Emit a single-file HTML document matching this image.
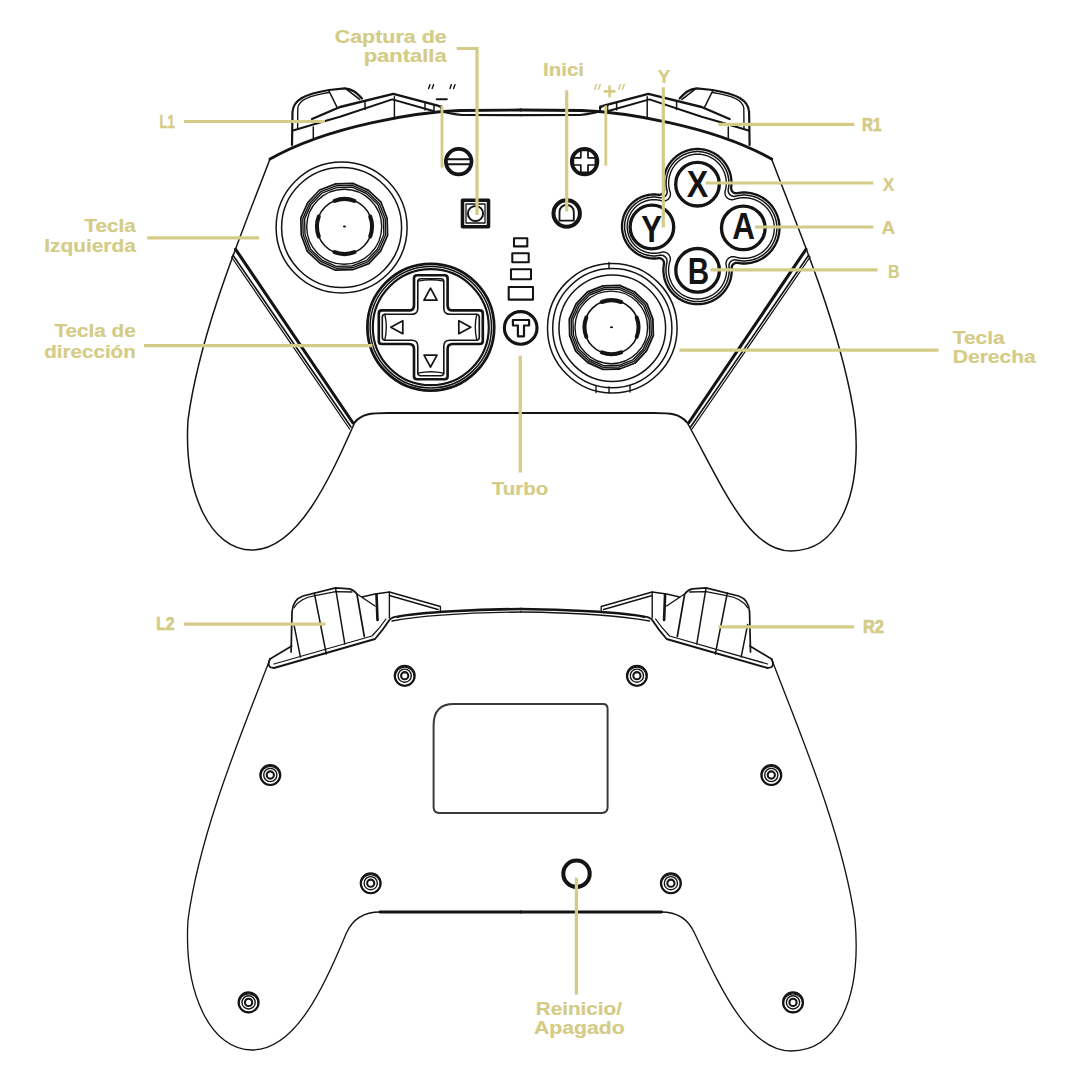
<!DOCTYPE html>
<html><head><meta charset="utf-8"><style>
html,body{margin:0;padding:0;background:#fff;}
svg{display:block;}
</style></head><body>
<svg width="1080" height="1080" viewBox="0 0 1080 1080">
<rect width="1080" height="1080" fill="#fff"/>
<g fill="none" stroke="#141414" stroke-linejoin="round" stroke-linecap="round">
<g><path d="M 521 110 L 460 110.5 C 420 112, 330 125, 270 159" stroke-width="2.88"/><path d="M 521 115.2 L 462 115 Q 450 114, 441.5 111" stroke-width="2.19"/><path d="M 355 422 C 362 414, 370 413, 388 413 L 521 413" stroke-width="1.96"/><path d="M 235.6 249.3 L 353 423" stroke-width="3.11"/><path d="M 233 255.2 L 351 427" stroke-width="1.61"/><path d="M 231.5 257 L 349.6 429" stroke-width="1.27"/><path d="M 292 145 L 292.5 112 C 293 100, 305 94, 329 90 L 345 88.3 C 352 89, 356 92, 362 98.5" stroke-width="2.19"/><path d="M 297.6 128 L 297.8 108 C 299 100, 308 96, 329 92.5" stroke-width="1.38"/><path d="M 329 91 L 337.4 108" stroke-width="1.61"/><path d="M 346.7 89.3 L 359.6 99.4" stroke-width="1.61"/><path d="M 312 119 L 340 107 L 393.3 93.9 L 437.8 105.6 Q 441 106.5 441.5 108" stroke-width="2.42"/><path d="M 293 130.5 L 326 120.7 L 340 116.7 L 392.2 99.4 L 433.3 111" stroke-width="1.96"/><path d="M 313.3 127 L 313.3 138 M 365 101 L 365 109.4 M 394.4 96.7 L 394.4 117.8 M 425 103.3 L 425 110 M 434 105 L 434 112" stroke-width="1.50"/><path d="M 441.5 106 L 441.5 112" stroke-width="1.73"/></g><g transform="matrix(-1 0 0 1 1041.6 0)"><path d="M 521 110 L 460 110.5 C 420 112, 330 125, 270 159" stroke-width="2.88"/><path d="M 521 115.2 L 462 115 Q 450 114, 441.5 111" stroke-width="2.19"/><path d="M 355 422 C 362 414, 370 413, 388 413 L 521 413" stroke-width="1.96"/><path d="M 235.6 249.3 L 353 423" stroke-width="3.11"/><path d="M 233 255.2 L 351 427" stroke-width="1.61"/><path d="M 231.5 257 L 349.6 429" stroke-width="1.27"/><path d="M 292 145 L 292.5 112 C 293 100, 305 94, 329 90 L 345 88.3 C 352 89, 356 92, 362 98.5" stroke-width="2.19"/><path d="M 297.6 128 L 297.8 108 C 299 100, 308 96, 329 92.5" stroke-width="1.38"/><path d="M 329 91 L 337.4 108" stroke-width="1.61"/><path d="M 346.7 89.3 L 359.6 99.4" stroke-width="1.61"/><path d="M 312 119 L 340 107 L 393.3 93.9 L 437.8 105.6 Q 441 106.5 441.5 108" stroke-width="2.42"/><path d="M 293 130.5 L 326 120.7 L 340 116.7 L 392.2 99.4 L 433.3 111" stroke-width="1.96"/><path d="M 313.3 127 L 313.3 138 M 365 101 L 365 109.4 M 394.4 96.7 L 394.4 117.8 M 425 103.3 L 425 110 M 434 105 L 434 112" stroke-width="1.50"/><path d="M 441.5 106 L 441.5 112" stroke-width="1.73"/></g><path d="M 270 159 C 245 225, 200 330, 188 420 C 183.5 494, 211 550, 252 550  C 298 550, 330 478, 355 422" stroke-width="1.50"/><path d="M 771.6 159 C 796.6 225, 842 330, 855 420 C 862 500, 836 551, 791 551 C 748 551, 722 485, 687.4 423" stroke-width="1.50"/><circle cx="341.6" cy="227.5" r="65.5" stroke-width="1.50"/><circle cx="341.6" cy="227.5" r="60.0" stroke-width="1.50"/><path d="M387.6 235.4 L380.6 251.1 L368.8 263.6 L352.7 269.7 L335.6 270.2 L319.9 263.2 L307.4 251.4 L301.3 235.3 L300.8 218.2 L307.8 202.5 L319.6 190.0 L335.7 183.9 L352.8 183.4 L368.5 190.4 L381.0 202.2 L387.1 218.3 Z" stroke-width="1.73"/><path d="M385.6 235.0 L378.9 250.0 L367.6 261.9 L352.4 267.8 L336.0 268.2 L321.0 261.5 L309.1 250.2 L303.2 235.0 L302.8 218.6 L309.5 203.6 L320.8 191.7 L336.0 185.8 L352.4 185.4 L367.4 192.1 L379.3 203.4 L385.2 218.6 Z" stroke-width="1.38"/><path d="M383.8 234.7 L377.5 249.0 L366.6 260.4 L352.0 266.0 L336.3 266.4 L322.0 260.1 L310.6 249.2 L305.0 234.6 L304.6 218.9 L310.9 204.6 L321.8 193.2 L336.4 187.6 L352.1 187.2 L366.4 193.5 L377.8 204.4 L383.4 219.0 Z" stroke-width="1.38"/><circle cx="344.2" cy="226.8" r="37.5" stroke-width="1.38"/><circle cx="344.5" cy="226.5" r="27.5" stroke-width="1.61"/><path d="M 370.2 216.6 A 27.5 27.5 0 0 1 370.2 236.4" stroke-width="4.03"/><path d="M 354.4 252.2 A 27.5 27.5 0 0 1 334.6 252.2" stroke-width="4.03"/><path d="M 318.8 236.4 A 27.5 27.5 0 0 1 318.8 216.6" stroke-width="4.03"/><path d="M 334.6 200.8 A 27.5 27.5 0 0 1 354.4 200.8" stroke-width="4.03"/><ellipse cx="344.5" cy="226.5" rx="1.6" ry="1" fill="#141414" stroke="none"/><circle cx="612.3" cy="328.2" r="64.8" stroke-width="1.50"/><circle cx="612.3" cy="328.2" r="59.6" stroke-width="1.50"/><circle cx="612.3" cy="328.2" r="53.3" stroke-width="1.50"/><path d="M653.3 335.7 L646.5 350.9 L635.1 363.0 L619.6 369.0 L603.0 369.4 L587.8 362.6 L575.7 351.2 L569.7 335.7 L569.3 319.1 L576.1 303.9 L587.5 291.8 L603.0 285.8 L619.6 285.4 L634.8 292.2 L646.9 303.6 L652.9 319.1 Z" stroke-width="1.84"/><path d="M651.3 335.4 L644.9 349.8 L634.0 361.3 L619.2 367.0 L603.3 367.4 L588.9 361.0 L577.4 350.1 L571.7 335.3 L571.3 319.4 L577.7 305.0 L588.6 293.5 L603.4 287.8 L619.3 287.4 L633.7 293.8 L645.2 304.7 L650.9 319.5 Z" stroke-width="1.38"/><path d="M649.6 335.0 L643.4 348.9 L633.0 359.8 L618.8 365.3 L603.7 365.7 L589.8 359.5 L578.9 349.1 L573.4 334.9 L573.0 319.8 L579.2 305.9 L589.6 295.0 L603.8 289.5 L618.9 289.1 L632.8 295.3 L643.7 305.7 L649.2 319.9 Z" stroke-width="1.38"/><circle cx="611.3" cy="327.4" r="36.3" stroke-width="1.38"/><circle cx="611.5" cy="327.2" r="27.0" stroke-width="1.61"/><path d="M 636.7 317.5 A 27.0 27.0 0 0 1 636.7 336.9" stroke-width="4.03"/><path d="M 621.2 352.4 A 27.0 27.0 0 0 1 601.8 352.4" stroke-width="4.03"/><path d="M 586.3 336.9 A 27.0 27.0 0 0 1 586.3 317.5" stroke-width="4.03"/><path d="M 601.8 302.0 A 27.0 27.0 0 0 1 621.2 302.0" stroke-width="4.03"/><ellipse cx="611.5" cy="327.2" rx="1.6" ry="1" fill="#141414" stroke="none"/><path d="M 609 262.5 L 609 268.5 M 596 386.5 L 596 392.6 M 609 387 L 609 393 M 630 386 L 630 392" stroke-width="1.38"/><circle cx="430.8" cy="327.2" r="63.4" stroke-width="2.76"/><circle cx="430.8" cy="327.2" r="60.7" stroke-width="1.50"/><circle cx="430.8" cy="327.2" r="58.0" stroke-width="2.19"/><path d="M 417.0 275.2 L 444.6 275.2 Q 447.6 275.2 447.6 278.2 L 447.6 305.4 Q 447.6 310.4 452.6 310.4 L 479.8 310.4 Q 482.8 310.4 482.8 313.4 L 482.8 341.0 Q 482.8 344.0 479.8 344.0 L 452.6 344.0 Q 447.6 344.0 447.6 349.0 L 447.6 376.2 Q 447.6 379.2 444.6 379.2 L 417.0 379.2 Q 414.0 379.2 414.0 376.2 L 414.0 349.0 Q 414.0 344.0 409.0 344.0 L 381.8 344.0 Q 378.8 344.0 378.8 341.0 L 378.8 313.4 Q 378.8 310.4 381.8 310.4 L 409.0 310.4 Q 414.0 310.4 414.0 305.4 L 414.0 278.2 Q 414.0 275.2 417.0 275.2 Z" stroke-width="2.65"/><path d="M 420.8 278.7 L 440.8 278.7 Q 443.8 278.7 443.8 281.7 L 443.8 308.2 Q 443.8 314.2 449.8 314.2 L 476.3 314.2 Q 479.3 314.2 479.3 317.2 L 479.3 337.2 Q 479.3 340.2 476.3 340.2 L 449.8 340.2 Q 443.8 340.2 443.8 346.2 L 443.8 372.7 Q 443.8 375.7 440.8 375.7 L 420.8 375.7 Q 417.8 375.7 417.8 372.7 L 417.8 346.2 Q 417.8 340.2 411.8 340.2 L 385.3 340.2 Q 382.3 340.2 382.3 337.2 L 382.3 317.2 Q 382.3 314.2 385.3 314.2 L 411.8 314.2 Q 417.8 314.2 417.8 308.2 L 417.8 281.7 Q 417.8 278.7 420.8 278.7 Z" stroke-width="1.61"/><path d="M 417.8 281.2 Q 430.8 278.2 443.8 281.2 M 417.8 373.2 Q 430.8 370.2 443.8 373.2 M 384.8 314.2 Q 387.8 327.2 384.8 340.2 M 476.8 314.2 Q 473.8 327.2 476.8 340.2" stroke-width="1.38"/><path d="M 424.0 300.2 L 437.0 300.2 L 430.5 288.2 Z M 424.0 355.2 L 437.0 355.2 L 430.5 367.2 Z M 402.8 320.7 L 402.8 333.7 L 390.8 327.2 Z M 458.8 320.7 L 458.8 333.7 L 470.8 327.2 Z" stroke-width="1.73"/><circle cx="458.7" cy="161.6" r="12.8" stroke-width="3.80"/><path d="M 448 159.2 L 469.5 159.2 M 448 164.2 L 469.5 164.2" stroke-width="1.96"/><circle cx="584.6" cy="161.6" r="12.8" stroke-width="3.80"/><path d="M 580.8 150.4 L 588.0 150.4 L 588.0 157.8 L 595.4 157.8 L 595.4 165.0 L 588.0 165.0 L 588.0 172.4 L 580.8 172.4 L 580.8 165.0 L 573.4 165.0 L 573.4 157.8 L 580.8 157.8 Z" stroke-width="1.73"/><rect x="462.5" y="200.3" width="26" height="26.5" stroke-width="3.57"/><rect x="466" y="204" width="19" height="19" stroke-width="1.27"/><circle cx="475.5" cy="213.5" r="7.6" stroke-width="1.96"/><circle cx="566.7" cy="213.5" r="13.2" stroke-width="4.03"/><path d="M 559.5 220.7 L 559.5 212 Q 559.5 206, 566.7 204.5 Q 573.8 206, 573.8 212 L 573.8 220.7 Z" stroke-width="1.84"/><rect x="514" y="238.2" width="13.3" height="8.2" stroke-width="2.07"/><rect x="512.3" y="253.3" width="16.4" height="9" stroke-width="2.07"/><rect x="511" y="269.3" width="20" height="9.9" stroke-width="2.07"/><rect x="508.7" y="287" width="24.3" height="12.6" stroke-width="2.07"/><circle cx="520.7" cy="327.9" r="16.3" stroke-width="3.11"/><path d="M 512.9 320 L 529.1 320 L 529.1 325.5 L 524 325.5 L 524 336.3 L 517.9 336.3 L 517.9 325.5 L 512.9 325.5 Z" stroke-width="2.19"/><path d="M658.3 258.2 L658.5 258.2 L658.6 258.2 L658.7 258.2 L658.8 258.2 L658.9 258.2 L659.1 258.2 L659.2 258.2 L659.3 258.2 L659.4 258.2 L659.6 258.2 L659.7 258.2 L659.8 258.2 L659.9 258.2 L660.0 258.3 L660.2 258.3 L660.3 258.3 L660.4 258.4 L660.5 258.4 L660.6 258.4 L660.7 258.5 L660.9 258.5 L661.0 258.6 L661.1 258.6 L661.2 258.7 L661.3 258.7 L661.4 258.8 L661.5 258.8 L661.6 258.9 L661.7 259.0 L661.8 259.0 L661.9 259.1 L662.0 259.2 L662.1 259.3 L662.2 259.3 L662.3 259.4 L662.4 259.5 L662.5 259.6 L662.6 259.7 L662.7 259.8 L662.7 259.8 L662.8 259.9 L662.9 260.0 L663.0 260.1 L663.1 260.2 L663.1 260.3 L663.2 260.4 L663.3 260.5 L663.3 260.6 L663.4 260.7 L663.4 260.9 L663.5 261.0 L663.5 261.1 L663.6 261.2 L663.6 261.3 L663.7 261.4 L663.7 261.5 L663.8 261.6 L663.8 261.8 L663.8 261.9 L663.9 262.0 L663.9 262.1 L663.9 262.2 L663.9 262.4 L664.0 262.5 L664.0 262.6 L664.0 262.7 L664.0 262.9 L664.0 263.0 L664.0 263.1 L664.0 263.2 L664.0 263.3 L664.0 263.5 L664.0 263.6 L664.0 263.7 L664.0 263.8 L663.9 264.0 L663.9 264.1 L663.9 264.1 L663.9 264.2 L663.8 265.0 L663.8 265.0 L663.7 265.8 L663.7 265.8 L663.6 266.6 L663.6 266.7 L663.5 267.5 L663.5 267.5 L663.4 268.3 L663.4 268.4 L663.4 269.1 L663.4 269.2 L663.4 270.0 L663.4 270.0 L663.4 270.8 L663.4 270.9 L663.4 271.6 L663.4 271.7 L663.5 272.5 L663.5 272.5 L663.6 273.3 L663.6 273.4 L663.7 274.2 L663.7 274.2 L663.8 275.0 L663.8 275.0 L663.9 275.8 L663.9 275.9 L664.1 276.6 L664.1 276.7 L664.2 277.5 L664.2 277.5 L664.4 278.3 L664.4 278.3 L664.6 279.1 L664.6 279.2 L664.9 279.9 L664.9 280.0 L665.1 280.7 L665.1 280.8 L665.4 281.5 L665.4 281.6 L665.7 282.3 L665.7 282.3 L666.0 283.1 L666.0 283.1 L666.3 283.8 L666.3 283.9 L666.7 284.6 L666.7 284.6 L667.0 285.3 L667.1 285.4 L667.4 286.1 L667.5 286.1 L667.8 286.8 L667.9 286.9 L668.3 287.6 L668.3 287.6 L668.7 288.3 L668.7 288.3 L669.1 289.0 L669.2 289.0 L669.6 289.7 L669.7 289.7 L670.1 290.3 L670.1 290.4 L670.6 291.0 L670.7 291.1 L671.1 291.7 L671.2 291.7 L671.7 292.3 L671.7 292.4 L672.2 292.9 L672.3 293.0 L672.8 293.6 L672.9 293.6 L673.4 294.2 L673.4 294.2 L674.0 294.7 L674.0 294.8 L674.6 295.3 L674.7 295.4 L675.2 295.9 L675.3 295.9 L675.9 296.4 L675.9 296.5 L676.5 296.9 L676.6 297.0 L677.2 297.5 L677.3 297.5 L677.9 297.9 L677.9 298.0 L678.6 298.4 L678.6 298.5 L679.3 298.9 L679.3 298.9 L680.0 299.3 L680.0 299.3 L680.7 299.7 L680.8 299.8 L681.5 300.1 L681.5 300.2 L682.2 300.5 L682.3 300.6 L683.0 300.9 L683.0 300.9 L683.7 301.3 L683.8 301.3 L684.5 301.6 L684.5 301.6 L685.3 301.9 L685.3 301.9 L686.0 302.2 L686.1 302.2 L686.8 302.5 L686.9 302.5 L687.6 302.7 L687.7 302.7 L688.4 303.0 L688.5 303.0 L689.3 303.2 L689.3 303.2 L690.1 303.4 L690.1 303.4 L690.9 303.5 L691.0 303.5 L691.7 303.7 L691.8 303.7 L692.6 303.8 L692.6 303.8 L693.4 303.9 L693.4 303.9 L694.2 304.0 L694.3 304.0 L695.1 304.1 L695.1 304.1 L695.9 304.2 L696.0 304.2 L696.7 304.2 L696.8 304.2 L697.6 304.2 L697.6 304.2 L698.4 304.2 L698.5 304.2 L699.2 304.2 L699.3 304.2 L700.1 304.1 L700.1 304.1 L700.9 304.0 L701.0 304.0 L701.8 303.9 L701.8 303.9 L702.6 303.8 L702.6 303.8 L703.4 303.7 L703.5 303.7 L704.2 303.5 L704.3 303.5 L705.1 303.4 L705.1 303.4 L705.9 303.2 L705.9 303.2 L706.7 303.0 L706.8 303.0 L707.5 302.7 L707.6 302.7 L708.3 302.5 L708.4 302.5 L709.1 302.2 L709.2 302.2 L709.9 301.9 L709.9 301.9 L710.7 301.6 L710.7 301.6 L711.4 301.3 L711.5 301.3 L712.2 300.9 L712.2 300.9 L712.9 300.6 L713.0 300.5 L713.7 300.2 L713.7 300.1 L714.4 299.8 L714.5 299.7 L715.2 299.3 L715.2 299.3 L715.9 298.9 L715.9 298.9 L716.6 298.5 L716.6 298.4 L717.3 298.0 L717.3 297.9 L717.9 297.5 L718.0 297.5 L718.6 297.0 L718.7 296.9 L719.3 296.5 L719.3 296.4 L719.9 295.9 L720.0 295.9 L720.5 295.4 L720.6 295.3 L721.2 294.8 L721.2 294.7 L721.8 294.2 L721.8 294.2 L722.3 293.6 L722.4 293.6 L722.9 293.0 L723.0 292.9 L723.5 292.4 L723.5 292.3 L724.0 291.7 L724.1 291.7 L724.5 291.1 L724.6 291.0 L725.1 290.4 L725.1 290.3 L725.5 289.7 L725.6 289.7 L726.0 289.0 L726.1 289.0 L726.5 288.3 L726.5 288.3 L726.9 287.6 L726.9 287.6 L727.3 286.9 L727.4 286.8 L727.7 286.1 L727.8 286.1 L728.1 285.4 L728.2 285.3 L728.5 284.6 L728.5 284.6 L728.9 283.9 L728.9 283.8 L729.2 283.1 L729.2 283.1 L729.5 282.3 L729.5 282.3 L729.8 281.6 L729.8 281.5 L730.1 280.8 L730.1 280.7 L730.3 280.0 L730.3 279.9 L730.6 279.2 L730.6 279.1 L730.8 278.3 L730.8 278.3 L731.0 277.5 L731.0 277.5 L731.1 276.7 L731.1 276.6 L731.3 275.9 L731.3 275.8 L731.4 275.0 L731.4 275.0 L731.5 274.2 L731.5 274.2 L731.6 273.4 L731.6 273.3 L731.7 272.5 L731.7 272.5 L731.8 271.7 L731.8 271.6 L731.8 270.9 L731.8 270.8 L731.8 270.0 L731.8 270.0 L731.8 269.2 L731.8 269.1 L731.8 268.4 L731.8 268.3 L731.7 268.1 L731.7 268.0 L731.7 267.9 L731.7 267.8 L731.7 267.7 L731.7 267.5 L731.8 267.4 L731.8 267.3 L731.8 267.2 L731.8 267.0 L731.8 266.9 L731.8 266.8 L731.9 266.7 L731.9 266.6 L731.9 266.4 L732.0 266.3 L732.0 266.2 L732.1 266.1 L732.1 266.0 L732.1 265.9 L732.2 265.8 L732.2 265.6 L732.3 265.5 L732.4 265.4 L732.4 265.3 L732.5 265.2 L732.5 265.1 L732.6 265.0 L732.7 264.9 L732.8 264.8 L732.8 264.7 L732.9 264.6 L733.0 264.5 L733.1 264.4 L733.2 264.3 L733.2 264.3 L733.3 264.2 L733.4 264.1 L733.5 264.0 L733.6 263.9 L733.7 263.9 L733.8 263.8 L733.9 263.7 L734.0 263.7 L734.1 263.6 L734.2 263.5 L734.3 263.5 L734.4 263.4 L734.5 263.3 L734.7 263.3 L734.8 263.2 L734.9 263.2 L735.0 263.2 L735.1 263.1 L735.2 263.1 L735.3 263.0 L735.5 263.0 L735.6 263.0 L735.7 262.9 L735.8 262.9 L735.9 262.9 L736.1 262.9 L736.2 262.9 L736.3 262.9 L736.4 262.9 L736.6 262.8 L736.7 262.8 L736.8 262.8 L736.9 262.8 L737.0 262.9 L737.2 262.9 L737.3 262.9 L737.4 262.9 L737.5 262.9 L737.7 262.9 L737.9 263.0 L738.0 263.0 L738.8 263.1 L738.8 263.1 L739.6 263.2 L739.7 263.2 L740.5 263.3 L740.6 263.3 L741.4 263.4 L741.4 263.4 L742.2 263.5 L742.3 263.5 L743.1 263.5 L743.2 263.5 L744.0 263.5 L744.0 263.5 L744.8 263.5 L744.9 263.5 L745.7 263.5 L745.8 263.5 L746.6 263.4 L746.6 263.4 L747.4 263.3 L747.5 263.3 L748.3 263.2 L748.4 263.2 L749.2 263.1 L749.2 263.1 L750.0 263.0 L750.1 263.0 L750.9 262.8 L751.0 262.8 L751.7 262.6 L751.8 262.6 L752.6 262.4 L752.7 262.4 L753.4 262.2 L753.5 262.2 L754.3 262.0 L754.3 262.0 L755.1 261.7 L755.2 261.7 L755.9 261.4 L756.0 261.4 L756.7 261.1 L756.8 261.1 L757.6 260.8 L757.6 260.8 L758.4 260.5 L758.4 260.4 L759.2 260.1 L759.2 260.1 L759.9 259.7 L760.0 259.7 L760.7 259.3 L760.8 259.3 L761.5 258.9 L761.5 258.9 L762.2 258.5 L762.3 258.4 L763.0 258.0 L763.0 258.0 L763.7 257.5 L763.7 257.5 L764.4 257.0 L764.5 257.0 L765.1 256.5 L765.2 256.5 L765.8 256.0 L765.9 256.0 L766.5 255.5 L766.5 255.4 L767.2 254.9 L767.2 254.9 L767.8 254.3 L767.9 254.3 L768.5 253.7 L768.5 253.7 L769.1 253.1 L769.1 253.1 L769.7 252.5 L769.7 252.5 L770.3 251.9 L770.3 251.8 L770.9 251.2 L770.9 251.2 L771.4 250.5 L771.5 250.5 L772.0 249.9 L772.0 249.8 L772.5 249.2 L772.5 249.1 L773.0 248.5 L773.0 248.4 L773.5 247.7 L773.5 247.7 L774.0 247.0 L774.0 247.0 L774.4 246.3 L774.5 246.2 L774.9 245.5 L774.9 245.5 L775.3 244.8 L775.3 244.7 L775.7 244.0 L775.7 243.9 L776.1 243.2 L776.1 243.2 L776.4 242.4 L776.5 242.4 L776.8 241.6 L776.8 241.6 L777.1 240.8 L777.1 240.7 L777.4 240.0 L777.4 239.9 L777.7 239.2 L777.7 239.1 L778.0 238.3 L778.0 238.3 L778.2 237.5 L778.2 237.4 L778.4 236.7 L778.4 236.6 L778.6 235.8 L778.6 235.7 L778.8 235.0 L778.8 234.9 L779.0 234.1 L779.0 234.0 L779.1 233.2 L779.1 233.2 L779.2 232.4 L779.2 232.3 L779.3 231.5 L779.3 231.4 L779.4 230.6 L779.4 230.6 L779.5 229.8 L779.5 229.7 L779.5 228.9 L779.5 228.8 L779.5 228.0 L779.5 228.0 L779.5 227.2 L779.5 227.1 L779.5 226.3 L779.5 226.2 L779.4 225.4 L779.4 225.4 L779.3 224.6 L779.3 224.5 L779.2 223.7 L779.2 223.6 L779.1 222.8 L779.1 222.8 L779.0 222.0 L779.0 221.9 L778.8 221.1 L778.8 221.0 L778.6 220.3 L778.6 220.2 L778.4 219.4 L778.4 219.3 L778.2 218.6 L778.2 218.5 L778.0 217.7 L778.0 217.7 L777.7 216.9 L777.7 216.8 L777.4 216.1 L777.4 216.0 L777.1 215.3 L777.1 215.2 L776.8 214.4 L776.8 214.4 L776.5 213.6 L776.4 213.6 L776.1 212.8 L776.1 212.8 L775.7 212.1 L775.7 212.0 L775.3 211.3 L775.3 211.2 L774.9 210.5 L774.9 210.5 L774.5 209.8 L774.4 209.7 L774.0 209.0 L774.0 209.0 L773.5 208.3 L773.5 208.3 L773.0 207.6 L773.0 207.5 L772.5 206.9 L772.5 206.8 L772.0 206.2 L772.0 206.1 L771.5 205.5 L771.4 205.5 L770.9 204.8 L770.9 204.8 L770.3 204.2 L770.3 204.1 L769.7 203.5 L769.7 203.5 L769.1 202.9 L769.1 202.9 L768.5 202.3 L768.5 202.3 L767.9 201.7 L767.8 201.7 L767.2 201.1 L767.2 201.1 L766.5 200.6 L766.5 200.5 L765.9 200.0 L765.8 200.0 L765.2 199.5 L765.1 199.5 L764.5 199.0 L764.4 199.0 L763.7 198.5 L763.7 198.5 L763.0 198.0 L763.0 198.0 L762.3 197.6 L762.2 197.5 L761.5 197.1 L761.5 197.1 L760.8 196.7 L760.7 196.7 L760.0 196.3 L759.9 196.3 L759.2 195.9 L759.2 195.9 L758.4 195.6 L758.4 195.5 L757.6 195.2 L757.6 195.2 L756.8 194.9 L756.7 194.9 L756.0 194.6 L755.9 194.6 L755.2 194.3 L755.1 194.3 L754.3 194.0 L754.3 194.0 L753.5 193.8 L753.4 193.8 L752.7 193.6 L752.6 193.6 L751.8 193.4 L751.7 193.4 L751.0 193.2 L750.9 193.2 L750.1 193.0 L750.0 193.0 L749.2 192.9 L749.2 192.9 L748.4 192.8 L748.3 192.8 L747.5 192.7 L747.4 192.7 L746.6 192.6 L746.6 192.6 L745.8 192.5 L745.7 192.5 L744.9 192.5 L744.8 192.5 L744.0 192.5 L744.0 192.5 L743.2 192.5 L743.1 192.5 L742.3 192.5 L742.2 192.5 L741.4 192.6 L741.4 192.6 L740.6 192.7 L740.5 192.7 L739.7 192.8 L739.6 192.8 L738.8 192.9 L738.8 192.9 L738.0 193.0 L737.9 193.0 L737.1 193.2 L737.1 193.2 L737.0 193.2 L736.9 193.2 L736.8 193.2 L736.6 193.2 L736.5 193.3 L736.4 193.3 L736.3 193.3 L736.1 193.3 L736.0 193.3 L735.9 193.3 L735.8 193.3 L735.7 193.2 L735.5 193.2 L735.4 193.2 L735.3 193.2 L735.2 193.2 L735.1 193.2 L734.9 193.1 L734.8 193.1 L734.7 193.1 L734.6 193.0 L734.5 193.0 L734.4 192.9 L734.2 192.9 L734.1 192.8 L734.0 192.8 L733.9 192.7 L733.8 192.7 L733.7 192.6 L733.6 192.6 L733.5 192.5 L733.4 192.4 L733.3 192.4 L733.2 192.3 L733.1 192.2 L733.0 192.2 L732.9 192.1 L732.8 192.0 L732.7 191.9 L732.6 191.8 L732.5 191.7 L732.5 191.7 L732.4 191.6 L732.3 191.5 L732.2 191.4 L732.1 191.3 L732.1 191.2 L732.0 191.1 L731.9 191.0 L731.9 190.9 L731.8 190.8 L731.7 190.7 L731.7 190.6 L731.6 190.4 L731.6 190.3 L731.5 190.2 L731.5 190.1 L731.4 190.0 L731.4 189.9 L731.4 189.8 L731.3 189.7 L731.3 189.5 L731.3 189.4 L731.2 189.3 L731.2 189.2 L731.2 189.1 L731.2 188.9 L731.2 188.8 L731.2 188.7 L731.1 188.6 L731.1 188.4 L731.1 188.3 L731.1 188.2 L731.1 188.1 L731.1 188.0 L731.2 187.8 L731.2 187.7 L731.2 187.6 L731.2 187.2 L731.2 187.1 L731.3 186.4 L731.3 186.3 L731.4 185.5 L731.4 185.5 L731.5 184.7 L731.5 184.6 L731.5 183.9 L731.5 183.8 L731.5 183.0 L731.5 183.0 L731.5 182.2 L731.5 182.1 L731.5 181.4 L731.5 181.3 L731.4 180.5 L731.4 180.5 L731.3 179.7 L731.3 179.6 L731.2 178.9 L731.2 178.8 L731.1 178.0 L731.1 178.0 L731.0 177.2 L731.0 177.2 L730.9 176.4 L730.8 176.3 L730.7 175.6 L730.7 175.5 L730.5 174.8 L730.5 174.7 L730.3 174.0 L730.3 173.9 L730.0 173.2 L730.0 173.1 L729.8 172.4 L729.8 172.3 L729.5 171.6 L729.5 171.5 L729.2 170.8 L729.2 170.7 L728.9 170.0 L728.9 170.0 L728.6 169.2 L728.6 169.2 L728.2 168.5 L728.2 168.4 L727.9 167.7 L727.9 167.7 L727.5 167.0 L727.5 166.9 L727.1 166.3 L727.1 166.2 L726.7 165.5 L726.6 165.5 L726.2 164.8 L726.2 164.8 L725.8 164.1 L725.8 164.1 L725.3 163.4 L725.3 163.4 L724.8 162.8 L724.8 162.7 L724.3 162.1 L724.3 162.1 L723.8 161.5 L723.8 161.4 L723.3 160.8 L723.2 160.8 L722.7 160.2 L722.7 160.1 L722.1 159.6 L722.1 159.5 L721.6 159.0 L721.5 158.9 L721.0 158.4 L720.9 158.4 L720.4 157.8 L720.3 157.8 L719.7 157.3 L719.7 157.2 L719.1 156.7 L719.0 156.7 L718.4 156.2 L718.4 156.2 L717.8 155.7 L717.7 155.7 L717.1 155.2 L717.1 155.2 L716.4 154.7 L716.4 154.7 L715.7 154.3 L715.7 154.3 L715.0 153.9 L715.0 153.8 L714.3 153.4 L714.2 153.4 L713.6 153.0 L713.5 153.0 L712.8 152.6 L712.8 152.6 L712.1 152.3 L712.0 152.3 L711.3 151.9 L711.3 151.9 L710.5 151.6 L710.5 151.6 L709.8 151.3 L709.7 151.3 L709.0 151.0 L708.9 151.0 L708.2 150.7 L708.1 150.7 L707.4 150.5 L707.3 150.5 L706.6 150.2 L706.5 150.2 L705.8 150.0 L705.7 150.0 L705.0 149.8 L704.9 149.8 L704.2 149.7 L704.1 149.6 L703.3 149.5 L703.3 149.5 L702.5 149.4 L702.5 149.4 L701.7 149.3 L701.6 149.3 L700.9 149.2 L700.8 149.2 L700.0 149.1 L700.0 149.1 L699.2 149.0 L699.1 149.0 L698.4 149.0 L698.3 149.0 L697.5 149.0 L697.5 149.0 L696.7 149.0 L696.6 149.0 L695.9 149.0 L695.8 149.0 L695.0 149.1 L695.0 149.1 L694.2 149.2 L694.1 149.2 L693.4 149.3 L693.3 149.3 L692.5 149.4 L692.5 149.4 L691.7 149.5 L691.7 149.5 L690.9 149.6 L690.8 149.7 L690.1 149.8 L690.0 149.8 L689.3 150.0 L689.2 150.0 L688.5 150.2 L688.4 150.2 L687.7 150.5 L687.6 150.5 L686.9 150.7 L686.8 150.7 L686.1 151.0 L686.0 151.0 L685.3 151.3 L685.2 151.3 L684.5 151.6 L684.5 151.6 L683.7 151.9 L683.7 151.9 L683.0 152.3 L682.9 152.3 L682.2 152.6 L682.2 152.6 L681.5 153.0 L681.4 153.0 L680.8 153.4 L680.7 153.4 L680.0 153.8 L680.0 153.9 L679.3 154.3 L679.3 154.3 L678.6 154.7 L678.6 154.7 L677.9 155.2 L677.9 155.2 L677.3 155.7 L677.2 155.7 L676.6 156.2 L676.6 156.2 L676.0 156.7 L675.9 156.7 L675.3 157.2 L675.3 157.3 L674.7 157.8 L674.6 157.8 L674.1 158.4 L674.0 158.4 L673.5 158.9 L673.4 159.0 L672.9 159.5 L672.9 159.6 L672.3 160.1 L672.3 160.2 L671.8 160.8 L671.7 160.8 L671.2 161.4 L671.2 161.5 L670.7 162.1 L670.7 162.1 L670.2 162.7 L670.2 162.8 L669.7 163.4 L669.7 163.4 L669.2 164.1 L669.2 164.1 L668.8 164.8 L668.8 164.8 L668.4 165.5 L668.3 165.5 L667.9 166.2 L667.9 166.3 L667.5 166.9 L667.5 167.0 L667.1 167.7 L667.1 167.7 L666.8 168.4 L666.8 168.5 L666.4 169.2 L666.4 169.2 L666.1 170.0 L666.1 170.0 L665.8 170.7 L665.8 170.8 L665.5 171.5 L665.5 171.6 L665.2 172.3 L665.2 172.4 L665.0 173.1 L665.0 173.2 L664.7 173.9 L664.7 174.0 L664.5 174.7 L664.5 174.8 L664.3 175.5 L664.3 175.6 L664.2 176.3 L664.1 176.4 L664.0 177.2 L664.0 177.2 L663.9 178.0 L663.9 178.0 L663.8 178.8 L663.8 178.9 L663.7 179.6 L663.7 179.7 L663.6 180.5 L663.6 180.5 L663.5 181.3 L663.5 181.4 L663.5 182.1 L663.5 182.2 L663.5 183.0 L663.5 183.0 L663.5 183.8 L663.5 183.9 L663.5 184.6 L663.5 184.7 L663.6 185.5 L663.6 185.5 L663.7 186.3 L663.7 186.4 L663.8 187.1 L663.8 187.2 L663.9 188.0 L663.9 188.0 L664.0 188.8 L664.0 188.8 L664.0 188.9 L664.0 189.1 L664.1 189.2 L664.1 189.3 L664.1 189.4 L664.1 189.6 L664.1 189.7 L664.1 189.8 L664.1 189.9 L664.1 190.0 L664.1 190.2 L664.1 190.3 L664.1 190.4 L664.1 190.5 L664.0 190.7 L664.0 190.8 L664.0 190.9 L664.0 191.0 L663.9 191.1 L663.9 191.2 L663.9 191.4 L663.8 191.5 L663.8 191.6 L663.8 191.7 L663.7 191.8 L663.7 191.9 L663.6 192.0 L663.5 192.2 L663.5 192.3 L663.4 192.4 L663.4 192.5 L663.3 192.6 L663.2 192.7 L663.2 192.8 L663.1 192.9 L663.0 193.0 L662.9 193.1 L662.9 193.2 L662.8 193.3 L662.7 193.3 L662.6 193.4 L662.5 193.5 L662.4 193.6 L662.3 193.7 L662.2 193.8 L662.1 193.8 L662.0 193.9 L661.9 194.0 L661.8 194.0 L661.7 194.1 L661.6 194.2 L661.5 194.2 L661.4 194.3 L661.3 194.3 L661.2 194.4 L661.1 194.5 L661.0 194.5 L660.9 194.5 L660.7 194.6 L660.6 194.6 L660.5 194.7 L660.4 194.7 L660.3 194.7 L660.1 194.7 L660.0 194.8 L659.9 194.8 L659.8 194.8 L659.7 194.8 L659.5 194.8 L659.4 194.8 L659.3 194.9 L659.2 194.9 L659.0 194.9 L658.9 194.9 L658.8 194.8 L658.7 194.8 L658.6 194.8 L658.4 194.8 L657.9 194.7 L657.9 194.7 L657.2 194.7 L657.1 194.7 L656.4 194.6 L656.3 194.6 L655.6 194.5 L655.5 194.5 L654.8 194.5 L654.8 194.5 L654.0 194.5 L654.0 194.5 L653.2 194.5 L653.2 194.5 L652.5 194.5 L652.4 194.5 L651.7 194.6 L651.6 194.6 L650.9 194.7 L650.8 194.7 L650.1 194.7 L650.1 194.7 L649.3 194.8 L649.3 194.9 L648.6 195.0 L648.5 195.0 L647.8 195.1 L647.7 195.1 L647.0 195.3 L647.0 195.3 L646.3 195.5 L646.2 195.5 L645.5 195.7 L645.4 195.7 L644.7 195.9 L644.7 195.9 L644.0 196.1 L643.9 196.1 L643.2 196.4 L643.2 196.4 L642.5 196.6 L642.5 196.7 L641.8 196.9 L641.7 196.9 L641.1 197.2 L641.0 197.3 L640.3 197.6 L640.3 197.6 L639.6 197.9 L639.6 197.9 L638.9 198.3 L638.9 198.3 L638.3 198.6 L638.2 198.7 L637.6 199.0 L637.5 199.1 L636.9 199.4 L636.9 199.5 L636.2 199.9 L636.2 199.9 L635.6 200.3 L635.5 200.4 L635.0 200.8 L634.9 200.8 L634.3 201.3 L634.3 201.3 L633.7 201.7 L633.7 201.8 L633.1 202.2 L633.1 202.3 L632.5 202.8 L632.5 202.8 L632.0 203.3 L631.9 203.3 L631.4 203.9 L631.4 203.9 L630.8 204.4 L630.8 204.5 L630.3 205.0 L630.3 205.0 L629.8 205.6 L629.7 205.6 L629.3 206.2 L629.2 206.2 L628.8 206.8 L628.8 206.8 L628.3 207.4 L628.3 207.5 L627.9 208.0 L627.8 208.1 L627.4 208.7 L627.4 208.7 L627.0 209.4 L626.9 209.4 L626.6 210.0 L626.5 210.1 L626.2 210.7 L626.1 210.8 L625.8 211.4 L625.8 211.4 L625.4 212.1 L625.4 212.1 L625.1 212.8 L625.1 212.8 L624.8 213.5 L624.7 213.6 L624.4 214.2 L624.4 214.3 L624.2 215.0 L624.1 215.0 L623.9 215.7 L623.9 215.7 L623.6 216.4 L623.6 216.5 L623.4 217.2 L623.4 217.2 L623.2 217.9 L623.2 218.0 L623.0 218.7 L623.0 218.8 L622.8 219.5 L622.8 219.5 L622.6 220.2 L622.6 220.3 L622.5 221.0 L622.5 221.1 L622.4 221.8 L622.3 221.8 L622.2 222.6 L622.2 222.6 L622.2 223.3 L622.2 223.4 L622.1 224.1 L622.1 224.2 L622.0 224.9 L622.0 225.0 L622.0 225.7 L622.0 225.7 L622.0 226.5 L622.0 226.5 L622.0 227.3 L622.0 227.3 L622.0 228.0 L622.0 228.1 L622.1 228.8 L622.1 228.9 L622.2 229.6 L622.2 229.7 L622.2 230.4 L622.2 230.4 L622.3 231.2 L622.4 231.2 L622.5 231.9 L622.5 232.0 L622.6 232.7 L622.6 232.8 L622.8 233.5 L622.8 233.5 L623.0 234.2 L623.0 234.3 L623.2 235.0 L623.2 235.1 L623.4 235.8 L623.4 235.8 L623.6 236.5 L623.6 236.6 L623.9 237.3 L623.9 237.3 L624.1 238.0 L624.2 238.0 L624.4 238.7 L624.4 238.8 L624.7 239.4 L624.8 239.5 L625.1 240.2 L625.1 240.2 L625.4 240.9 L625.4 240.9 L625.8 241.6 L625.8 241.6 L626.1 242.2 L626.2 242.3 L626.5 242.9 L626.6 243.0 L626.9 243.6 L627.0 243.6 L627.4 244.3 L627.4 244.3 L627.8 244.9 L627.9 245.0 L628.3 245.5 L628.3 245.6 L628.8 246.2 L628.8 246.2 L629.2 246.8 L629.3 246.8 L629.7 247.4 L629.8 247.4 L630.3 248.0 L630.3 248.0 L630.8 248.5 L630.8 248.6 L631.4 249.1 L631.4 249.1 L631.9 249.7 L632.0 249.7 L632.5 250.2 L632.5 250.2 L633.1 250.7 L633.1 250.8 L633.7 251.2 L633.7 251.3 L634.3 251.7 L634.3 251.7 L634.9 252.2 L635.0 252.2 L635.5 252.6 L635.6 252.7 L636.2 253.1 L636.2 253.1 L636.9 253.5 L636.9 253.6 L637.5 253.9 L637.6 254.0 L638.2 254.3 L638.3 254.4 L638.9 254.7 L638.9 254.7 L639.6 255.1 L639.6 255.1 L640.3 255.4 L640.3 255.4 L641.0 255.7 L641.1 255.8 L641.7 256.1 L641.8 256.1 L642.5 256.3 L642.5 256.4 L643.2 256.6 L643.2 256.6 L643.9 256.9 L644.0 256.9 L644.7 257.1 L644.7 257.1 L645.4 257.3 L645.5 257.3 L646.2 257.5 L646.3 257.5 L647.0 257.7 L647.0 257.7 L647.7 257.9 L647.8 257.9 L648.5 258.0 L648.6 258.0 L649.3 258.1 L649.3 258.2 L650.1 258.3 L650.1 258.3 L650.8 258.3 L650.9 258.3 L651.6 258.4 L651.7 258.4 L652.4 258.5 L652.5 258.5 L653.2 258.5 L653.2 258.5 L654.0 258.5 L654.0 258.5 L654.8 258.5 L654.8 258.5 L655.5 258.5 L655.6 258.5 L656.3 258.4 L656.4 258.4 L657.1 258.3 L657.2 258.3 L657.9 258.3 L657.9 258.3 L658.3 258.2 Z" stroke-width="2.30"/><path d="M659.8 255.3 L660.0 255.3 L660.1 255.3 L660.2 255.2 L660.4 255.2 L660.5 255.2 L660.7 255.2 L660.8 255.2 L661.0 255.2 L661.1 255.2 L661.3 255.2 L661.4 255.2 L661.6 255.2 L661.7 255.2 L661.9 255.2 L662.0 255.3 L662.1 255.3 L662.3 255.3 L662.4 255.4 L662.6 255.4 L662.7 255.4 L662.9 255.5 L663.0 255.5 L663.1 255.6 L663.3 255.6 L663.4 255.7 L663.5 255.7 L663.7 255.8 L663.8 255.9 L663.9 255.9 L664.1 256.0 L664.2 256.1 L664.3 256.2 L664.4 256.2 L664.6 256.3 L664.7 256.4 L664.8 256.5 L664.9 256.6 L665.0 256.7 L665.1 256.8 L665.2 256.9 L665.3 257.0 L665.4 257.1 L665.5 257.2 L665.6 257.3 L665.7 257.4 L665.8 257.6 L665.9 257.7 L666.0 257.8 L666.1 257.9 L666.2 258.0 L666.2 258.2 L666.3 258.3 L666.4 258.4 L666.4 258.6 L666.5 258.7 L666.6 258.8 L666.6 259.0 L666.7 259.1 L666.7 259.2 L666.8 259.4 L666.8 259.5 L666.9 259.7 L666.9 259.8 L666.9 259.9 L666.9 260.1 L667.0 260.2 L667.0 260.4 L667.0 260.5 L667.0 260.7 L667.0 260.8 L667.0 261.0 L667.0 261.1 L667.0 261.3 L667.0 261.4 L667.0 261.6 L667.0 261.7 L667.0 261.9 L667.0 262.0 L667.0 262.1 L666.9 262.3 L666.9 262.4 L666.9 262.6 L666.8 263.0 L666.8 263.1 L666.6 263.8 L666.6 263.9 L666.5 264.6 L666.5 264.6 L666.3 265.3 L666.3 265.4 L666.2 266.1 L666.2 266.2 L666.2 266.9 L666.1 266.9 L666.1 267.6 L666.1 267.7 L666.0 268.4 L666.0 268.5 L666.0 269.2 L666.0 269.3 L666.0 270.0 L666.0 270.0 L666.0 270.7 L666.0 270.8 L666.0 271.5 L666.0 271.6 L666.1 272.3 L666.1 272.4 L666.1 273.1 L666.2 273.1 L666.2 273.8 L666.2 273.9 L666.3 274.6 L666.3 274.7 L666.5 275.4 L666.5 275.4 L666.6 276.1 L666.6 276.2 L666.8 276.9 L666.8 277.0 L666.9 277.6 L667.0 277.7 L667.1 278.4 L667.2 278.5 L667.4 279.1 L667.4 279.2 L667.6 279.9 L667.6 279.9 L667.8 280.6 L667.9 280.7 L668.1 281.3 L668.1 281.4 L668.4 282.1 L668.4 282.1 L668.7 282.8 L668.7 282.8 L669.0 283.5 L669.1 283.5 L669.4 284.2 L669.4 284.2 L669.7 284.9 L669.7 284.9 L670.1 285.5 L670.1 285.6 L670.5 286.2 L670.5 286.3 L670.9 286.9 L670.9 286.9 L671.3 287.5 L671.3 287.6 L671.7 288.2 L671.8 288.2 L672.2 288.8 L672.2 288.9 L672.7 289.4 L672.7 289.5 L673.1 290.0 L673.2 290.1 L673.6 290.6 L673.7 290.7 L674.2 291.2 L674.2 291.2 L674.7 291.8 L674.7 291.8 L675.2 292.3 L675.3 292.4 L675.8 292.9 L675.8 292.9 L676.4 293.4 L676.4 293.4 L676.9 293.9 L677.0 294.0 L677.5 294.4 L677.6 294.5 L678.1 294.9 L678.2 294.9 L678.7 295.4 L678.8 295.4 L679.4 295.8 L679.4 295.9 L680.0 296.3 L680.1 296.3 L680.7 296.7 L680.7 296.7 L681.3 297.1 L681.4 297.1 L682.0 297.5 L682.1 297.5 L682.7 297.9 L682.7 297.9 L683.4 298.2 L683.4 298.2 L684.1 298.5 L684.1 298.6 L684.8 298.9 L684.8 298.9 L685.5 299.2 L685.5 299.2 L686.2 299.5 L686.3 299.5 L686.9 299.7 L687.0 299.8 L687.7 300.0 L687.7 300.0 L688.4 300.2 L688.5 300.2 L689.1 300.4 L689.2 300.5 L689.9 300.6 L690.0 300.7 L690.6 300.8 L690.7 300.8 L691.4 301.0 L691.5 301.0 L692.2 301.1 L692.2 301.1 L692.9 301.3 L693.0 301.3 L693.7 301.4 L693.8 301.4 L694.5 301.4 L694.5 301.5 L695.2 301.5 L695.3 301.5 L696.0 301.6 L696.1 301.6 L696.8 301.6 L696.9 301.6 L697.6 301.6 L697.6 301.6 L698.3 301.6 L698.4 301.6 L699.1 301.6 L699.2 301.6 L699.9 301.5 L700.0 301.5 L700.7 301.5 L700.7 301.4 L701.4 301.4 L701.5 301.4 L702.2 301.3 L702.3 301.3 L703.0 301.1 L703.0 301.1 L703.7 301.0 L703.8 301.0 L704.5 300.8 L704.6 300.8 L705.2 300.7 L705.3 300.6 L706.0 300.5 L706.1 300.4 L706.7 300.2 L706.8 300.2 L707.5 300.0 L707.5 300.0 L708.2 299.8 L708.3 299.7 L708.9 299.5 L709.0 299.5 L709.7 299.2 L709.7 299.2 L710.4 298.9 L710.4 298.9 L711.1 298.6 L711.1 298.5 L711.8 298.2 L711.8 298.2 L712.5 297.9 L712.5 297.9 L713.1 297.5 L713.2 297.5 L713.8 297.1 L713.9 297.1 L714.5 296.7 L714.5 296.7 L715.1 296.3 L715.2 296.3 L715.8 295.9 L715.8 295.8 L716.4 295.4 L716.5 295.4 L717.0 294.9 L717.1 294.9 L717.6 294.5 L717.7 294.4 L718.2 294.0 L718.3 293.9 L718.8 293.4 L718.8 293.4 L719.4 292.9 L719.4 292.9 L719.9 292.4 L720.0 292.3 L720.5 291.8 L720.5 291.8 L721.0 291.2 L721.0 291.2 L721.5 290.7 L721.6 290.6 L722.0 290.1 L722.1 290.0 L722.5 289.5 L722.5 289.4 L723.0 288.9 L723.0 288.8 L723.4 288.2 L723.5 288.2 L723.9 287.6 L723.9 287.5 L724.3 286.9 L724.3 286.9 L724.7 286.3 L724.7 286.2 L725.1 285.6 L725.1 285.5 L725.5 284.9 L725.5 284.9 L725.8 284.2 L725.8 284.2 L726.1 283.5 L726.2 283.5 L726.5 282.8 L726.5 282.8 L726.8 282.1 L726.8 282.1 L727.1 281.4 L727.1 281.3 L727.3 280.7 L727.4 280.6 L727.6 279.9 L727.6 279.9 L727.8 279.2 L727.8 279.1 L728.0 278.5 L728.1 278.4 L728.2 277.7 L728.3 277.6 L728.4 277.0 L728.4 276.9 L728.6 276.2 L728.6 276.1 L728.7 275.4 L728.7 275.4 L728.9 274.7 L728.9 274.6 L729.0 273.9 L729.0 273.8 L729.0 273.1 L729.1 273.1 L729.1 272.4 L729.1 272.3 L729.2 271.6 L729.2 271.5 L729.2 270.8 L729.2 270.7 L729.2 270.0 L729.2 270.0 L729.2 269.3 L729.2 269.2 L729.2 268.5 L729.2 268.4 L729.1 267.7 L729.1 267.6 L729.1 266.9 L729.0 266.9 L729.0 266.5 L729.0 266.3 L729.0 266.2 L729.0 266.1 L729.0 265.9 L729.0 265.8 L729.0 265.6 L729.0 265.5 L729.0 265.3 L729.0 265.2 L729.0 265.0 L729.0 264.9 L729.1 264.7 L729.1 264.6 L729.1 264.4 L729.2 264.3 L729.2 264.2 L729.2 264.0 L729.3 263.9 L729.3 263.7 L729.4 263.6 L729.5 263.5 L729.5 263.3 L729.6 263.2 L729.6 263.1 L729.7 262.9 L729.8 262.8 L729.9 262.7 L729.9 262.6 L730.0 262.4 L730.1 262.3 L730.2 262.2 L730.3 262.1 L730.4 262.0 L730.5 261.9 L730.6 261.8 L730.7 261.6 L730.8 261.5 L730.9 261.4 L731.0 261.3 L731.1 261.2 L731.2 261.1 L731.3 261.1 L731.5 261.0 L731.6 260.9 L731.7 260.8 L731.8 260.7 L731.9 260.7 L732.1 260.6 L732.2 260.5 L732.3 260.4 L732.5 260.4 L732.6 260.3 L732.7 260.3 L732.9 260.2 L733.0 260.2 L733.2 260.1 L733.3 260.1 L733.4 260.0 L733.6 260.0 L733.7 260.0 L733.9 259.9 L734.0 259.9 L734.2 259.9 L734.3 259.9 L734.5 259.9 L734.6 259.8 L734.7 259.8 L734.9 259.8 L735.0 259.8 L735.2 259.8 L735.3 259.8 L735.5 259.9 L735.6 259.9 L735.8 259.9 L735.9 259.9 L736.1 259.9 L736.2 260.0 L736.4 260.0 L736.8 260.1 L736.8 260.1 L737.5 260.3 L737.6 260.3 L738.3 260.4 L738.4 260.4 L739.1 260.5 L739.2 260.5 L739.9 260.6 L740.0 260.7 L740.7 260.7 L740.8 260.7 L741.5 260.8 L741.6 260.8 L742.3 260.9 L742.4 260.9 L743.2 260.9 L743.2 260.9 L744.0 260.9 L744.0 260.9 L744.8 260.9 L744.8 260.9 L745.6 260.9 L745.7 260.9 L746.4 260.8 L746.5 260.8 L747.2 260.7 L747.3 260.7 L748.0 260.7 L748.1 260.6 L748.8 260.5 L748.9 260.5 L749.6 260.4 L749.7 260.4 L750.4 260.3 L750.5 260.3 L751.2 260.1 L751.2 260.1 L752.0 259.9 L752.0 259.9 L752.7 259.7 L752.8 259.7 L753.5 259.5 L753.6 259.5 L754.3 259.3 L754.4 259.2 L755.0 259.0 L755.1 259.0 L755.8 258.7 L755.9 258.7 L756.6 258.4 L756.6 258.4 L757.3 258.1 L757.4 258.1 L758.0 257.8 L758.1 257.7 L758.8 257.4 L758.8 257.4 L759.5 257.0 L759.5 257.0 L760.2 256.6 L760.2 256.6 L760.9 256.2 L760.9 256.2 L761.6 255.8 L761.6 255.8 L762.2 255.4 L762.3 255.3 L762.9 254.9 L763.0 254.9 L763.6 254.4 L763.6 254.4 L764.2 254.0 L764.3 253.9 L764.8 253.5 L764.9 253.4 L765.5 252.9 L765.5 252.9 L766.1 252.4 L766.1 252.4 L766.7 251.9 L766.7 251.8 L767.2 251.3 L767.3 251.2 L767.8 250.7 L767.9 250.7 L768.4 250.1 L768.4 250.1 L768.9 249.5 L768.9 249.5 L769.4 248.9 L769.5 248.8 L769.9 248.3 L770.0 248.2 L770.4 247.6 L770.4 247.6 L770.9 247.0 L770.9 246.9 L771.3 246.3 L771.4 246.2 L771.8 245.6 L771.8 245.6 L772.2 244.9 L772.2 244.9 L772.6 244.2 L772.6 244.2 L773.0 243.5 L773.0 243.5 L773.4 242.8 L773.4 242.8 L773.7 242.1 L773.8 242.0 L774.1 241.4 L774.1 241.3 L774.4 240.6 L774.4 240.6 L774.7 239.9 L774.7 239.8 L775.0 239.1 L775.0 239.0 L775.2 238.4 L775.3 238.3 L775.5 237.6 L775.5 237.5 L775.7 236.8 L775.7 236.7 L775.9 236.0 L775.9 236.0 L776.1 235.2 L776.1 235.2 L776.3 234.5 L776.3 234.4 L776.4 233.7 L776.4 233.6 L776.5 232.9 L776.5 232.8 L776.6 232.1 L776.7 232.0 L776.7 231.3 L776.7 231.2 L776.8 230.5 L776.8 230.4 L776.9 229.7 L776.9 229.6 L776.9 228.8 L776.9 228.8 L776.9 228.0 L776.9 228.0 L776.9 227.2 L776.9 227.2 L776.9 226.4 L776.9 226.3 L776.8 225.6 L776.8 225.5 L776.7 224.8 L776.7 224.7 L776.7 224.0 L776.6 223.9 L776.5 223.2 L776.5 223.1 L776.4 222.4 L776.4 222.3 L776.3 221.6 L776.3 221.5 L776.1 220.8 L776.1 220.8 L775.9 220.0 L775.9 220.0 L775.7 219.3 L775.7 219.2 L775.5 218.5 L775.5 218.4 L775.3 217.7 L775.2 217.6 L775.0 217.0 L775.0 216.9 L774.7 216.2 L774.7 216.1 L774.4 215.4 L774.4 215.4 L774.1 214.7 L774.1 214.6 L773.8 214.0 L773.7 213.9 L773.4 213.2 L773.4 213.2 L773.0 212.5 L773.0 212.5 L772.6 211.8 L772.6 211.8 L772.2 211.1 L772.2 211.1 L771.8 210.4 L771.8 210.4 L771.4 209.8 L771.3 209.7 L770.9 209.1 L770.9 209.0 L770.4 208.4 L770.4 208.4 L770.0 207.8 L769.9 207.7 L769.5 207.2 L769.4 207.1 L768.9 206.5 L768.9 206.5 L768.4 205.9 L768.4 205.9 L767.9 205.3 L767.8 205.3 L767.3 204.8 L767.2 204.7 L766.7 204.2 L766.7 204.1 L766.1 203.6 L766.1 203.6 L765.5 203.1 L765.5 203.1 L764.9 202.6 L764.8 202.5 L764.3 202.1 L764.2 202.0 L763.6 201.6 L763.6 201.6 L763.0 201.1 L762.9 201.1 L762.3 200.7 L762.2 200.6 L761.6 200.2 L761.6 200.2 L760.9 199.8 L760.9 199.8 L760.2 199.4 L760.2 199.4 L759.5 199.0 L759.5 199.0 L758.8 198.6 L758.8 198.6 L758.1 198.3 L758.0 198.2 L757.4 197.9 L757.3 197.9 L756.6 197.6 L756.6 197.6 L755.9 197.3 L755.8 197.3 L755.1 197.0 L755.0 197.0 L754.4 196.8 L754.3 196.7 L753.6 196.5 L753.5 196.5 L752.8 196.3 L752.7 196.3 L752.0 196.1 L752.0 196.1 L751.2 195.9 L751.2 195.9 L750.5 195.7 L750.4 195.7 L749.7 195.6 L749.6 195.6 L748.9 195.5 L748.8 195.5 L748.1 195.4 L748.0 195.3 L747.3 195.3 L747.2 195.3 L746.5 195.2 L746.4 195.2 L745.7 195.1 L745.6 195.1 L744.8 195.1 L744.8 195.1 L744.0 195.1 L744.0 195.1 L743.2 195.1 L743.2 195.1 L742.4 195.1 L742.3 195.1 L741.6 195.2 L741.5 195.2 L740.8 195.3 L740.7 195.3 L740.0 195.3 L739.9 195.4 L739.2 195.5 L739.1 195.5 L738.4 195.6 L738.3 195.6 L737.6 195.7 L737.5 195.7 L736.8 195.9 L736.8 195.9 L736.0 196.1 L736.0 196.1 L735.7 196.2 L735.6 196.2 L735.4 196.2 L735.3 196.3 L735.1 196.3 L735.0 196.3 L734.8 196.3 L734.7 196.3 L734.5 196.4 L734.4 196.4 L734.2 196.4 L734.1 196.4 L733.9 196.4 L733.8 196.4 L733.6 196.3 L733.5 196.3 L733.3 196.3 L733.2 196.3 L733.1 196.3 L732.9 196.2 L732.8 196.2 L732.6 196.2 L732.5 196.1 L732.3 196.1 L732.2 196.0 L732.1 196.0 L731.9 195.9 L731.8 195.9 L731.6 195.8 L731.5 195.7 L731.4 195.7 L731.2 195.6 L731.1 195.5 L731.0 195.5 L730.9 195.4 L730.7 195.3 L730.6 195.2 L730.5 195.1 L730.4 195.0 L730.3 194.9 L730.2 194.8 L730.1 194.7 L729.9 194.6 L729.8 194.5 L729.7 194.4 L729.6 194.3 L729.5 194.2 L729.5 194.1 L729.4 194.0 L729.3 193.8 L729.2 193.7 L729.1 193.6 L729.0 193.5 L729.0 193.3 L728.9 193.2 L728.8 193.1 L728.8 193.0 L728.7 192.8 L728.6 192.7 L728.6 192.5 L728.5 192.4 L728.5 192.3 L728.4 192.1 L728.4 192.0 L728.4 191.8 L728.3 191.7 L728.3 191.6 L728.3 191.4 L728.2 191.3 L728.2 191.1 L728.2 191.0 L728.2 190.8 L728.2 190.7 L728.2 190.5 L728.2 190.4 L728.2 190.2 L728.2 190.1 L728.2 189.9 L728.2 189.8 L728.2 189.6 L728.2 189.5 L728.3 189.3 L728.3 189.2 L728.3 189.1 L728.4 188.4 L728.4 188.3 L728.6 187.6 L728.6 187.6 L728.7 186.9 L728.7 186.8 L728.7 186.1 L728.8 186.0 L728.8 185.3 L728.8 185.3 L728.9 184.6 L728.9 184.5 L728.9 183.8 L728.9 183.7 L728.9 183.0 L728.9 183.0 L728.9 182.3 L728.9 182.2 L728.9 181.5 L728.9 181.4 L728.8 180.7 L728.8 180.7 L728.8 180.0 L728.7 179.9 L728.7 179.2 L728.7 179.1 L728.6 178.4 L728.6 178.4 L728.4 177.7 L728.4 177.6 L728.3 176.9 L728.3 176.8 L728.1 176.2 L728.1 176.1 L728.0 175.4 L727.9 175.3 L727.8 174.7 L727.8 174.6 L727.6 173.9 L727.5 173.8 L727.3 173.2 L727.3 173.1 L727.1 172.5 L727.1 172.4 L726.8 171.7 L726.8 171.7 L726.5 171.0 L726.5 170.9 L726.2 170.3 L726.2 170.2 L725.9 169.6 L725.9 169.5 L725.6 168.9 L725.5 168.8 L725.2 168.2 L725.2 168.2 L724.8 167.6 L724.8 167.5 L724.5 166.9 L724.4 166.8 L724.0 166.2 L724.0 166.2 L723.6 165.6 L723.6 165.5 L723.2 164.9 L723.2 164.9 L722.7 164.3 L722.7 164.3 L722.3 163.7 L722.2 163.7 L721.8 163.1 L721.7 163.1 L721.3 162.5 L721.3 162.5 L720.8 161.9 L720.7 161.9 L720.3 161.4 L720.2 161.3 L719.7 160.8 L719.7 160.8 L719.2 160.3 L719.1 160.2 L718.6 159.8 L718.6 159.7 L718.0 159.2 L718.0 159.2 L717.4 158.8 L717.4 158.7 L716.8 158.3 L716.8 158.2 L716.2 157.8 L716.2 157.8 L715.6 157.3 L715.6 157.3 L715.0 156.9 L714.9 156.9 L714.3 156.5 L714.3 156.5 L713.7 156.1 L713.6 156.0 L713.0 155.7 L712.9 155.7 L712.3 155.3 L712.3 155.3 L711.7 155.0 L711.6 154.9 L711.0 154.6 L710.9 154.6 L710.3 154.3 L710.2 154.3 L709.6 154.0 L709.5 154.0 L708.8 153.7 L708.8 153.7 L708.1 153.4 L708.0 153.4 L707.4 153.2 L707.3 153.2 L706.7 153.0 L706.6 152.9 L705.9 152.7 L705.8 152.7 L705.2 152.6 L705.1 152.5 L704.4 152.4 L704.3 152.4 L703.7 152.2 L703.6 152.2 L702.9 152.1 L702.8 152.1 L702.1 151.9 L702.1 151.9 L701.4 151.8 L701.3 151.8 L700.6 151.8 L700.5 151.7 L699.8 151.7 L699.8 151.7 L699.1 151.6 L699.0 151.6 L698.3 151.6 L698.2 151.6 L697.5 151.6 L697.5 151.6 L696.8 151.6 L696.7 151.6 L696.0 151.6 L695.9 151.6 L695.2 151.7 L695.2 151.7 L694.5 151.7 L694.4 151.8 L693.7 151.8 L693.6 151.8 L692.9 151.9 L692.9 151.9 L692.2 152.1 L692.1 152.1 L691.4 152.2 L691.3 152.2 L690.7 152.4 L690.6 152.4 L689.9 152.5 L689.8 152.6 L689.2 152.7 L689.1 152.7 L688.4 152.9 L688.3 153.0 L687.7 153.2 L687.6 153.2 L687.0 153.4 L686.9 153.4 L686.2 153.7 L686.2 153.7 L685.5 154.0 L685.4 154.0 L684.8 154.3 L684.7 154.3 L684.1 154.6 L684.0 154.6 L683.4 154.9 L683.3 155.0 L682.7 155.3 L682.7 155.3 L682.1 155.7 L682.0 155.7 L681.4 156.0 L681.3 156.1 L680.7 156.5 L680.7 156.5 L680.1 156.9 L680.0 156.9 L679.4 157.3 L679.4 157.3 L678.8 157.8 L678.8 157.8 L678.2 158.2 L678.2 158.3 L677.6 158.7 L677.6 158.8 L677.0 159.2 L677.0 159.2 L676.4 159.7 L676.4 159.8 L675.9 160.2 L675.8 160.3 L675.3 160.8 L675.3 160.8 L674.8 161.3 L674.7 161.4 L674.3 161.9 L674.2 161.9 L673.7 162.5 L673.7 162.5 L673.3 163.1 L673.2 163.1 L672.8 163.7 L672.7 163.7 L672.3 164.3 L672.3 164.3 L671.8 164.9 L671.8 164.9 L671.4 165.5 L671.4 165.6 L671.0 166.2 L671.0 166.2 L670.6 166.8 L670.5 166.9 L670.2 167.5 L670.2 167.6 L669.8 168.2 L669.8 168.2 L669.5 168.8 L669.4 168.9 L669.1 169.5 L669.1 169.6 L668.8 170.2 L668.8 170.3 L668.5 170.9 L668.5 171.0 L668.2 171.7 L668.2 171.7 L667.9 172.4 L667.9 172.5 L667.7 173.1 L667.7 173.2 L667.5 173.8 L667.4 173.9 L667.2 174.6 L667.2 174.7 L667.1 175.3 L667.0 175.4 L666.9 176.1 L666.9 176.2 L666.7 176.8 L666.7 176.9 L666.6 177.6 L666.6 177.7 L666.4 178.4 L666.4 178.4 L666.3 179.1 L666.3 179.2 L666.3 179.9 L666.2 180.0 L666.2 180.7 L666.2 180.7 L666.1 181.4 L666.1 181.5 L666.1 182.2 L666.1 182.3 L666.1 183.0 L666.1 183.0 L666.1 183.7 L666.1 183.8 L666.1 184.5 L666.1 184.6 L666.2 185.3 L666.2 185.3 L666.2 186.0 L666.3 186.1 L666.3 186.8 L666.3 186.9 L666.4 187.6 L666.4 187.6 L666.6 188.3 L666.6 188.4 L666.7 189.1 L666.7 189.2 L666.9 189.8 L666.9 189.9 L667.0 190.4 L667.0 190.6 L667.1 190.7 L667.1 190.9 L667.1 191.0 L667.1 191.2 L667.1 191.3 L667.1 191.5 L667.2 191.6 L667.2 191.8 L667.2 191.9 L667.2 192.1 L667.1 192.2 L667.1 192.3 L667.1 192.5 L667.1 192.6 L667.1 192.8 L667.1 192.9 L667.0 193.1 L667.0 193.2 L667.0 193.4 L666.9 193.5 L666.9 193.6 L666.8 193.8 L666.8 193.9 L666.7 194.1 L666.7 194.2 L666.6 194.3 L666.6 194.5 L666.5 194.6 L666.4 194.7 L666.3 194.9 L666.3 195.0 L666.2 195.1 L666.1 195.2 L666.0 195.3 L665.9 195.5 L665.8 195.6 L665.8 195.7 L665.7 195.8 L665.6 195.9 L665.5 196.0 L665.4 196.1 L665.2 196.2 L665.1 196.3 L665.0 196.4 L664.9 196.5 L664.8 196.6 L664.7 196.7 L664.6 196.8 L664.4 196.9 L664.3 196.9 L664.2 197.0 L664.1 197.1 L663.9 197.2 L663.8 197.2 L663.7 197.3 L663.5 197.3 L663.4 197.4 L663.3 197.5 L663.1 197.5 L663.0 197.6 L662.8 197.6 L662.7 197.6 L662.5 197.7 L662.4 197.7 L662.3 197.7 L662.1 197.8 L662.0 197.8 L661.8 197.8 L661.7 197.8 L661.5 197.8 L661.4 197.8 L661.2 197.8 L661.1 197.8 L660.9 197.8 L660.8 197.8 L660.6 197.8 L660.5 197.8 L660.4 197.8 L660.2 197.8 L660.1 197.7 L659.9 197.7 L659.8 197.7 L659.7 197.7 L659.1 197.5 L659.0 197.5 L658.4 197.4 L658.3 197.4 L657.6 197.3 L657.6 197.3 L656.9 197.2 L656.8 197.2 L656.2 197.2 L656.1 197.2 L655.5 197.1 L655.4 197.1 L654.8 197.1 L654.7 197.1 L654.0 197.1 L654.0 197.1 L653.3 197.1 L653.2 197.1 L652.6 197.1 L652.5 197.1 L651.9 197.2 L651.8 197.2 L651.2 197.2 L651.1 197.2 L650.4 197.3 L650.4 197.3 L649.7 197.4 L649.6 197.4 L649.0 197.5 L648.9 197.5 L648.3 197.7 L648.2 197.7 L647.6 197.8 L647.5 197.8 L646.9 198.0 L646.8 198.0 L646.2 198.2 L646.1 198.2 L645.5 198.4 L645.4 198.4 L644.8 198.6 L644.7 198.6 L644.1 198.8 L644.1 198.8 L643.5 199.1 L643.4 199.1 L642.8 199.3 L642.7 199.4 L642.1 199.6 L642.1 199.6 L641.5 199.9 L641.4 199.9 L640.8 200.2 L640.7 200.3 L640.2 200.6 L640.1 200.6 L639.5 200.9 L639.5 200.9 L638.9 201.3 L638.9 201.3 L638.3 201.6 L638.2 201.7 L637.7 202.0 L637.6 202.1 L637.1 202.4 L637.0 202.5 L636.5 202.9 L636.5 202.9 L635.9 203.3 L635.9 203.3 L635.4 203.8 L635.3 203.8 L634.8 204.2 L634.8 204.3 L634.3 204.7 L634.2 204.7 L633.8 205.2 L633.7 205.2 L633.2 205.7 L633.2 205.7 L632.7 206.2 L632.7 206.3 L632.2 206.7 L632.2 206.8 L631.8 207.3 L631.7 207.3 L631.3 207.8 L631.3 207.9 L630.8 208.4 L630.8 208.4 L630.4 209.0 L630.4 209.0 L630.0 209.5 L629.9 209.6 L629.6 210.1 L629.5 210.2 L629.2 210.7 L629.1 210.8 L628.8 211.4 L628.8 211.4 L628.4 212.0 L628.4 212.0 L628.1 212.6 L628.1 212.7 L627.8 213.2 L627.7 213.3 L627.4 213.9 L627.4 214.0 L627.1 214.6 L627.1 214.6 L626.9 215.2 L626.8 215.3 L626.6 215.9 L626.6 216.0 L626.3 216.6 L626.3 216.6 L626.1 217.2 L626.1 217.3 L625.9 217.9 L625.9 218.0 L625.7 218.6 L625.7 218.7 L625.5 219.3 L625.5 219.4 L625.3 220.0 L625.3 220.1 L625.2 220.7 L625.2 220.8 L625.0 221.4 L625.0 221.5 L624.9 222.1 L624.9 222.2 L624.8 222.9 L624.8 222.9 L624.7 223.6 L624.7 223.7 L624.7 224.3 L624.7 224.4 L624.6 225.0 L624.6 225.1 L624.6 225.7 L624.6 225.8 L624.6 226.5 L624.6 226.5 L624.6 227.2 L624.6 227.3 L624.6 227.9 L624.6 228.0 L624.7 228.6 L624.7 228.7 L624.7 229.3 L624.7 229.4 L624.8 230.1 L624.8 230.1 L624.9 230.8 L624.9 230.9 L625.0 231.5 L625.0 231.6 L625.2 232.2 L625.2 232.3 L625.3 232.9 L625.3 233.0 L625.5 233.6 L625.5 233.7 L625.7 234.3 L625.7 234.4 L625.9 235.0 L625.9 235.1 L626.1 235.7 L626.1 235.8 L626.3 236.4 L626.3 236.4 L626.6 237.0 L626.6 237.1 L626.8 237.7 L626.9 237.8 L627.1 238.4 L627.1 238.4 L627.4 239.0 L627.4 239.1 L627.7 239.7 L627.8 239.8 L628.1 240.3 L628.1 240.4 L628.4 241.0 L628.4 241.0 L628.8 241.6 L628.8 241.6 L629.1 242.2 L629.2 242.3 L629.5 242.8 L629.6 242.9 L629.9 243.4 L630.0 243.5 L630.4 244.0 L630.4 244.0 L630.8 244.6 L630.8 244.6 L631.3 245.1 L631.3 245.2 L631.7 245.7 L631.8 245.7 L632.2 246.2 L632.2 246.3 L632.7 246.7 L632.7 246.8 L633.2 247.3 L633.2 247.3 L633.7 247.8 L633.8 247.8 L634.2 248.3 L634.3 248.3 L634.8 248.7 L634.8 248.8 L635.3 249.2 L635.4 249.2 L635.9 249.7 L635.9 249.7 L636.5 250.1 L636.5 250.1 L637.0 250.5 L637.1 250.6 L637.6 250.9 L637.7 251.0 L638.2 251.3 L638.3 251.4 L638.9 251.7 L638.9 251.7 L639.5 252.1 L639.5 252.1 L640.1 252.4 L640.2 252.4 L640.7 252.7 L640.8 252.8 L641.4 253.1 L641.5 253.1 L642.1 253.4 L642.1 253.4 L642.7 253.6 L642.8 253.7 L643.4 253.9 L643.5 253.9 L644.1 254.2 L644.1 254.2 L644.7 254.4 L644.8 254.4 L645.4 254.6 L645.5 254.6 L646.1 254.8 L646.2 254.8 L646.8 255.0 L646.9 255.0 L647.5 255.2 L647.6 255.2 L648.2 255.3 L648.3 255.3 L648.9 255.5 L649.0 255.5 L649.6 255.6 L649.7 255.6 L650.4 255.7 L650.4 255.7 L651.1 255.8 L651.2 255.8 L651.8 255.8 L651.9 255.8 L652.5 255.9 L652.6 255.9 L653.2 255.9 L653.3 255.9 L654.0 255.9 L654.0 255.9 L654.7 255.9 L654.8 255.9 L655.4 255.9 L655.5 255.9 L656.1 255.8 L656.2 255.8 L656.8 255.8 L656.9 255.8 L657.6 255.7 L657.6 255.7 L658.3 255.6 L658.4 255.6 L659.0 255.5 L659.1 255.5 L659.7 255.3 L659.8 255.3 L659.8 255.3 Z" stroke-width="1.50"/><path d="M661.4 252.3 L661.5 252.2 L661.7 252.2 L661.9 252.1 L662.0 252.1 L662.2 252.1 L662.4 252.0 L662.6 252.0 L662.7 252.0 L662.9 252.0 L663.1 252.0 L663.2 252.0 L663.4 252.0 L663.6 252.0 L663.8 252.0 L663.9 252.0 L664.1 252.0 L664.3 252.0 L664.4 252.1 L664.6 252.1 L664.8 252.1 L664.9 252.2 L665.1 252.2 L665.3 252.3 L665.4 252.3 L665.6 252.4 L665.8 252.4 L665.9 252.5 L666.1 252.6 L666.2 252.6 L666.4 252.7 L666.6 252.8 L666.7 252.9 L666.9 252.9 L667.0 253.0 L667.1 253.1 L667.3 253.2 L667.4 253.3 L667.6 253.4 L667.7 253.5 L667.8 253.6 L668.0 253.7 L668.1 253.9 L668.2 254.0 L668.3 254.1 L668.5 254.2 L668.6 254.3 L668.7 254.5 L668.8 254.6 L668.9 254.7 L669.0 254.9 L669.1 255.0 L669.2 255.2 L669.3 255.3 L669.4 255.5 L669.5 255.6 L669.5 255.8 L669.6 255.9 L669.7 256.1 L669.8 256.2 L669.8 256.4 L669.9 256.5 L669.9 256.7 L670.0 256.9 L670.1 257.0 L670.1 257.2 L670.1 257.4 L670.2 257.5 L670.2 257.7 L670.2 257.9 L670.3 258.0 L670.3 258.2 L670.3 258.4 L670.3 258.6 L670.3 258.7 L670.3 258.9 L670.3 259.1 L670.3 259.2 L670.3 259.4 L670.3 259.6 L670.3 259.8 L670.3 259.9 L670.2 260.1 L670.2 260.3 L670.2 260.4 L670.1 260.6 L670.1 260.8 L670.1 260.9 L670.0 261.1 L669.9 261.5 L669.8 261.6 L669.7 262.2 L669.6 262.3 L669.5 262.9 L669.5 263.0 L669.3 263.6 L669.3 263.7 L669.2 264.3 L669.1 264.4 L669.0 265.0 L669.0 265.1 L668.9 265.7 L668.9 265.8 L668.8 266.4 L668.8 266.5 L668.7 267.1 L668.7 267.2 L668.7 267.8 L668.7 267.9 L668.6 268.5 L668.6 268.6 L668.6 269.2 L668.6 269.3 L668.6 270.0 L668.6 270.0 L668.6 270.7 L668.6 270.8 L668.6 271.4 L668.6 271.5 L668.7 272.1 L668.7 272.2 L668.7 272.8 L668.7 272.9 L668.8 273.5 L668.8 273.6 L668.9 274.2 L668.9 274.3 L669.0 274.9 L669.0 275.0 L669.1 275.6 L669.2 275.7 L669.3 276.3 L669.3 276.4 L669.5 277.0 L669.5 277.1 L669.6 277.7 L669.7 277.8 L669.8 278.4 L669.9 278.5 L670.1 279.1 L670.1 279.1 L670.3 279.7 L670.3 279.8 L670.5 280.4 L670.6 280.5 L670.8 281.1 L670.8 281.1 L671.1 281.7 L671.1 281.8 L671.4 282.4 L671.4 282.4 L671.7 283.0 L671.7 283.1 L672.0 283.6 L672.0 283.7 L672.3 284.3 L672.4 284.3 L672.7 284.9 L672.7 284.9 L673.1 285.5 L673.1 285.6 L673.5 286.1 L673.5 286.1 L673.9 286.7 L673.9 286.7 L674.3 287.2 L674.3 287.3 L674.7 287.8 L674.8 287.9 L675.2 288.4 L675.2 288.4 L675.6 288.9 L675.7 289.0 L676.1 289.4 L676.1 289.5 L676.6 290.0 L676.6 290.0 L677.1 290.5 L677.1 290.5 L677.6 291.0 L677.6 291.0 L678.1 291.5 L678.2 291.5 L678.6 291.9 L678.7 292.0 L679.2 292.4 L679.2 292.4 L679.7 292.8 L679.8 292.9 L680.3 293.3 L680.4 293.3 L680.9 293.7 L680.9 293.7 L681.5 294.1 L681.5 294.1 L682.0 294.5 L682.1 294.5 L682.7 294.9 L682.7 294.9 L683.3 295.2 L683.3 295.3 L683.9 295.6 L684.0 295.6 L684.5 295.9 L684.6 295.9 L685.2 296.2 L685.2 296.2 L685.8 296.5 L685.9 296.5 L686.5 296.8 L686.5 296.8 L687.1 297.0 L687.2 297.1 L687.8 297.3 L687.9 297.3 L688.5 297.5 L688.5 297.5 L689.1 297.7 L689.2 297.8 L689.8 297.9 L689.9 298.0 L690.5 298.1 L690.6 298.1 L691.2 298.3 L691.3 298.3 L691.9 298.4 L692.0 298.5 L692.6 298.6 L692.7 298.6 L693.3 298.7 L693.4 298.7 L694.0 298.8 L694.1 298.8 L694.7 298.9 L694.8 298.9 L695.4 298.9 L695.5 298.9 L696.1 299.0 L696.2 299.0 L696.8 299.0 L696.9 299.0 L697.6 299.0 L697.6 299.0 L698.3 299.0 L698.4 299.0 L699.0 299.0 L699.1 299.0 L699.7 298.9 L699.8 298.9 L700.4 298.9 L700.5 298.9 L701.1 298.8 L701.2 298.8 L701.8 298.7 L701.9 298.7 L702.5 298.6 L702.6 298.6 L703.2 298.5 L703.3 298.4 L703.9 298.3 L704.0 298.3 L704.6 298.1 L704.7 298.1 L705.3 298.0 L705.4 297.9 L706.0 297.8 L706.1 297.7 L706.7 297.5 L706.7 297.5 L707.3 297.3 L707.4 297.3 L708.0 297.1 L708.1 297.0 L708.7 296.8 L708.7 296.8 L709.3 296.5 L709.4 296.5 L710.0 296.2 L710.0 296.2 L710.6 295.9 L710.7 295.9 L711.2 295.6 L711.3 295.6 L711.9 295.3 L711.9 295.2 L712.5 294.9 L712.5 294.9 L713.1 294.5 L713.2 294.5 L713.7 294.1 L713.7 294.1 L714.3 293.7 L714.3 293.7 L714.8 293.3 L714.9 293.3 L715.4 292.9 L715.5 292.8 L716.0 292.4 L716.0 292.4 L716.5 292.0 L716.6 291.9 L717.0 291.5 L717.1 291.5 L717.6 291.0 L717.6 291.0 L718.1 290.5 L718.1 290.5 L718.6 290.0 L718.6 290.0 L719.1 289.5 L719.1 289.4 L719.5 289.0 L719.6 288.9 L720.0 288.4 L720.0 288.4 L720.4 287.9 L720.5 287.8 L720.9 287.3 L720.9 287.2 L721.3 286.7 L721.3 286.7 L721.7 286.1 L721.7 286.1 L722.1 285.6 L722.1 285.5 L722.5 284.9 L722.5 284.9 L722.8 284.3 L722.9 284.3 L723.2 283.7 L723.2 283.6 L723.5 283.1 L723.5 283.0 L723.8 282.4 L723.8 282.4 L724.1 281.8 L724.1 281.7 L724.4 281.1 L724.4 281.1 L724.6 280.5 L724.7 280.4 L724.9 279.8 L724.9 279.7 L725.1 279.1 L725.1 279.1 L725.3 278.5 L725.4 278.4 L725.5 277.8 L725.6 277.7 L725.7 277.1 L725.7 277.0 L725.9 276.4 L725.9 276.3 L726.0 275.7 L726.1 275.6 L726.2 275.0 L726.2 274.9 L726.3 274.3 L726.3 274.2 L726.4 273.6 L726.4 273.5 L726.5 272.9 L726.5 272.8 L726.5 272.2 L726.5 272.1 L726.6 271.5 L726.6 271.4 L726.6 270.8 L726.6 270.7 L726.6 270.0 L726.6 270.0 L726.6 269.3 L726.6 269.2 L726.6 268.6 L726.6 268.5 L726.5 267.9 L726.5 267.8 L726.5 267.2 L726.5 267.1 L726.4 266.5 L726.4 266.4 L726.3 265.8 L726.3 265.7 L726.2 265.1 L726.2 265.0 L726.2 264.9 L726.1 264.8 L726.1 264.6 L726.1 264.4 L726.1 264.3 L726.0 264.1 L726.0 263.9 L726.0 263.7 L726.0 263.6 L726.0 263.4 L726.0 263.2 L726.1 263.1 L726.1 262.9 L726.1 262.7 L726.1 262.5 L726.2 262.4 L726.2 262.2 L726.2 262.0 L726.3 261.9 L726.3 261.7 L726.4 261.6 L726.4 261.4 L726.5 261.2 L726.5 261.1 L726.6 260.9 L726.7 260.8 L726.7 260.6 L726.8 260.4 L726.9 260.3 L727.0 260.1 L727.1 260.0 L727.2 259.9 L727.2 259.7 L727.3 259.6 L727.4 259.4 L727.6 259.3 L727.7 259.2 L727.8 259.0 L727.9 258.9 L728.0 258.8 L728.1 258.7 L728.2 258.5 L728.4 258.4 L728.5 258.3 L728.6 258.2 L728.8 258.1 L728.9 258.0 L729.0 257.9 L729.2 257.8 L729.3 257.7 L729.5 257.6 L729.6 257.5 L729.8 257.5 L729.9 257.4 L730.1 257.3 L730.2 257.2 L730.4 257.2 L730.6 257.1 L730.7 257.0 L730.9 257.0 L731.0 256.9 L731.2 256.9 L731.4 256.9 L731.5 256.8 L731.7 256.8 L731.9 256.7 L732.0 256.7 L732.2 256.7 L732.4 256.7 L732.6 256.7 L732.7 256.7 L732.9 256.7 L733.1 256.7 L733.2 256.7 L733.4 256.7 L733.6 256.7 L733.7 256.7 L733.9 256.7 L734.1 256.7 L734.3 256.8 L734.4 256.8 L734.6 256.8 L734.8 256.9 L734.9 256.9 L735.1 257.0 L735.3 257.0 L735.9 257.2 L736.0 257.2 L736.6 257.4 L736.7 257.4 L737.3 257.6 L737.4 257.6 L738.0 257.7 L738.1 257.7 L738.8 257.8 L738.9 257.9 L739.5 258.0 L739.6 258.0 L740.2 258.1 L740.3 258.1 L741.0 258.1 L741.1 258.2 L741.7 258.2 L741.8 258.2 L742.5 258.3 L742.6 258.3 L743.2 258.3 L743.3 258.3 L744.0 258.3 L744.0 258.3 L744.7 258.3 L744.8 258.3 L745.4 258.3 L745.5 258.3 L746.2 258.2 L746.3 258.2 L746.9 258.2 L747.0 258.1 L747.7 258.1 L747.8 258.1 L748.4 258.0 L748.5 258.0 L749.1 257.9 L749.2 257.8 L749.9 257.7 L750.0 257.7 L750.6 257.6 L750.7 257.6 L751.3 257.4 L751.4 257.4 L752.0 257.2 L752.1 257.2 L752.8 257.0 L752.8 257.0 L753.5 256.8 L753.5 256.8 L754.2 256.5 L754.2 256.5 L754.9 256.3 L754.9 256.3 L755.6 256.0 L755.6 256.0 L756.2 255.7 L756.3 255.7 L756.9 255.4 L757.0 255.4 L757.6 255.1 L757.7 255.0 L758.2 254.7 L758.3 254.7 L758.9 254.4 L759.0 254.3 L759.5 254.0 L759.6 254.0 L760.2 253.6 L760.2 253.6 L760.8 253.2 L760.9 253.2 L761.4 252.8 L761.5 252.7 L762.0 252.4 L762.1 252.3 L762.6 251.9 L762.7 251.9 L763.2 251.4 L763.3 251.4 L763.8 251.0 L763.8 250.9 L764.3 250.5 L764.4 250.4 L764.9 250.0 L764.9 249.9 L765.4 249.5 L765.5 249.4 L765.9 248.9 L766.0 248.9 L766.4 248.4 L766.5 248.3 L766.9 247.8 L767.0 247.8 L767.4 247.3 L767.4 247.2 L767.9 246.7 L767.9 246.6 L768.3 246.1 L768.4 246.0 L768.7 245.5 L768.8 245.4 L769.2 244.9 L769.2 244.8 L769.6 244.2 L769.6 244.2 L770.0 243.6 L770.0 243.5 L770.3 243.0 L770.4 242.9 L770.7 242.3 L770.7 242.2 L771.0 241.7 L771.1 241.6 L771.4 241.0 L771.4 240.9 L771.7 240.3 L771.7 240.2 L772.0 239.6 L772.0 239.6 L772.3 238.9 L772.3 238.9 L772.5 238.2 L772.5 238.2 L772.8 237.5 L772.8 237.5 L773.0 236.8 L773.0 236.8 L773.2 236.1 L773.2 236.0 L773.4 235.4 L773.4 235.3 L773.6 234.7 L773.6 234.6 L773.7 234.0 L773.7 233.9 L773.8 233.2 L773.9 233.1 L774.0 232.5 L774.0 232.4 L774.1 231.8 L774.1 231.7 L774.1 231.0 L774.2 230.9 L774.2 230.3 L774.2 230.2 L774.3 229.5 L774.3 229.4 L774.3 228.8 L774.3 228.7 L774.3 228.0 L774.3 228.0 L774.3 227.3 L774.3 227.2 L774.3 226.6 L774.3 226.5 L774.2 225.8 L774.2 225.7 L774.2 225.1 L774.1 225.0 L774.1 224.3 L774.1 224.2 L774.0 223.6 L774.0 223.5 L773.9 222.9 L773.8 222.8 L773.7 222.1 L773.7 222.0 L773.6 221.4 L773.6 221.3 L773.4 220.7 L773.4 220.6 L773.2 220.0 L773.2 219.9 L773.0 219.2 L773.0 219.2 L772.8 218.5 L772.8 218.5 L772.5 217.8 L772.5 217.8 L772.3 217.1 L772.3 217.1 L772.0 216.4 L772.0 216.4 L771.7 215.8 L771.7 215.7 L771.4 215.1 L771.4 215.0 L771.1 214.4 L771.0 214.3 L770.7 213.8 L770.7 213.7 L770.4 213.1 L770.3 213.0 L770.0 212.5 L770.0 212.4 L769.6 211.8 L769.6 211.8 L769.2 211.2 L769.2 211.1 L768.8 210.6 L768.7 210.5 L768.4 210.0 L768.3 209.9 L767.9 209.4 L767.9 209.3 L767.4 208.8 L767.4 208.7 L767.0 208.2 L766.9 208.2 L766.5 207.7 L766.4 207.6 L766.0 207.1 L765.9 207.1 L765.5 206.6 L765.4 206.5 L764.9 206.1 L764.9 206.0 L764.4 205.6 L764.3 205.5 L763.8 205.1 L763.8 205.0 L763.3 204.6 L763.2 204.6 L762.7 204.1 L762.6 204.1 L762.1 203.7 L762.0 203.6 L761.5 203.3 L761.4 203.2 L760.9 202.8 L760.8 202.8 L760.2 202.4 L760.2 202.4 L759.6 202.0 L759.5 202.0 L759.0 201.7 L758.9 201.6 L758.3 201.3 L758.2 201.3 L757.7 201.0 L757.6 200.9 L757.0 200.6 L756.9 200.6 L756.3 200.3 L756.2 200.3 L755.6 200.0 L755.6 200.0 L754.9 199.7 L754.9 199.7 L754.2 199.5 L754.2 199.5 L753.5 199.2 L753.5 199.2 L752.8 199.0 L752.8 199.0 L752.1 198.8 L752.0 198.8 L751.4 198.6 L751.3 198.6 L750.7 198.4 L750.6 198.4 L750.0 198.3 L749.9 198.3 L749.2 198.2 L749.1 198.1 L748.5 198.0 L748.4 198.0 L747.8 197.9 L747.7 197.9 L747.0 197.9 L746.9 197.8 L746.3 197.8 L746.2 197.8 L745.5 197.7 L745.4 197.7 L744.8 197.7 L744.7 197.7 L744.0 197.7 L744.0 197.7 L743.3 197.7 L743.2 197.7 L742.6 197.7 L742.5 197.7 L741.8 197.8 L741.7 197.8 L741.1 197.8 L741.0 197.9 L740.3 197.9 L740.2 197.9 L739.6 198.0 L739.5 198.0 L738.9 198.1 L738.8 198.2 L738.1 198.3 L738.0 198.3 L737.4 198.4 L737.3 198.4 L736.7 198.6 L736.6 198.6 L736.0 198.8 L735.9 198.8 L735.2 199.0 L735.2 199.0 L734.5 199.2 L734.5 199.2 L734.2 199.3 L734.1 199.4 L733.9 199.4 L733.7 199.5 L733.6 199.5 L733.4 199.5 L733.2 199.6 L733.1 199.6 L732.9 199.6 L732.7 199.7 L732.6 199.7 L732.4 199.7 L732.2 199.7 L732.0 199.7 L731.9 199.7 L731.7 199.7 L731.5 199.7 L731.4 199.7 L731.2 199.7 L731.0 199.6 L730.8 199.6 L730.7 199.6 L730.5 199.5 L730.3 199.5 L730.2 199.5 L730.0 199.4 L729.8 199.4 L729.7 199.3 L729.5 199.3 L729.4 199.2 L729.2 199.1 L729.0 199.1 L728.9 199.0 L728.7 198.9 L728.6 198.8 L728.4 198.7 L728.3 198.7 L728.1 198.6 L728.0 198.5 L727.9 198.4 L727.7 198.3 L727.6 198.2 L727.5 198.1 L727.3 197.9 L727.2 197.8 L727.1 197.7 L726.9 197.6 L726.8 197.5 L726.7 197.3 L726.6 197.2 L726.5 197.1 L726.4 196.9 L726.3 196.8 L726.2 196.7 L726.1 196.5 L726.0 196.4 L725.9 196.2 L725.8 196.1 L725.7 195.9 L725.7 195.8 L725.6 195.6 L725.5 195.5 L725.5 195.3 L725.4 195.1 L725.3 195.0 L725.3 194.8 L725.2 194.6 L725.2 194.5 L725.1 194.3 L725.1 194.1 L725.1 194.0 L725.0 193.8 L725.0 193.6 L725.0 193.5 L725.0 193.3 L725.0 193.1 L725.0 193.0 L725.0 192.8 L725.0 192.6 L725.0 192.4 L725.0 192.3 L725.0 192.1 L725.0 191.9 L725.0 191.8 L725.0 191.6 L725.1 191.4 L725.1 191.2 L725.1 191.1 L725.2 190.9 L725.2 190.7 L725.2 190.7 L725.3 190.6 L725.4 190.0 L725.4 190.0 L725.6 189.4 L725.6 189.3 L725.7 188.7 L725.8 188.6 L725.9 188.0 L725.9 187.9 L726.0 187.3 L726.0 187.2 L726.1 186.6 L726.1 186.5 L726.2 185.9 L726.2 185.8 L726.2 185.2 L726.2 185.1 L726.3 184.5 L726.3 184.4 L726.3 183.7 L726.3 183.7 L726.3 183.0 L726.3 183.0 L726.3 182.3 L726.3 182.3 L726.3 181.6 L726.3 181.5 L726.2 180.9 L726.2 180.8 L726.2 180.2 L726.2 180.1 L726.1 179.5 L726.1 179.4 L726.0 178.8 L726.0 178.7 L725.9 178.1 L725.9 178.0 L725.8 177.4 L725.7 177.3 L725.6 176.7 L725.6 176.6 L725.4 176.0 L725.4 176.0 L725.3 175.4 L725.2 175.3 L725.1 174.7 L725.0 174.6 L724.9 174.0 L724.8 173.9 L724.6 173.3 L724.6 173.3 L724.4 172.7 L724.4 172.6 L724.1 172.0 L724.1 171.9 L723.8 171.4 L723.8 171.3 L723.6 170.7 L723.5 170.6 L723.2 170.1 L723.2 170.0 L722.9 169.5 L722.9 169.4 L722.6 168.8 L722.5 168.8 L722.2 168.2 L722.2 168.2 L721.9 167.6 L721.8 167.6 L721.5 167.0 L721.4 167.0 L721.1 166.5 L721.0 166.4 L720.7 165.9 L720.6 165.8 L720.2 165.3 L720.2 165.2 L719.8 164.8 L719.7 164.7 L719.3 164.2 L719.3 164.2 L718.9 163.7 L718.8 163.6 L718.4 163.2 L718.3 163.1 L717.9 162.7 L717.8 162.6 L717.4 162.2 L717.3 162.1 L716.9 161.7 L716.8 161.6 L716.3 161.2 L716.3 161.2 L715.8 160.8 L715.7 160.7 L715.3 160.3 L715.2 160.3 L714.7 159.9 L714.6 159.8 L714.1 159.5 L714.0 159.4 L713.5 159.1 L713.5 159.0 L712.9 158.7 L712.9 158.6 L712.3 158.3 L712.3 158.3 L711.7 158.0 L711.7 157.9 L711.1 157.6 L711.0 157.6 L710.5 157.3 L710.4 157.3 L709.9 157.0 L709.8 156.9 L709.2 156.7 L709.1 156.7 L708.6 156.4 L708.5 156.4 L707.9 156.1 L707.8 156.1 L707.2 155.9 L707.2 155.9 L706.6 155.7 L706.5 155.6 L705.9 155.5 L705.8 155.4 L705.2 155.3 L705.1 155.2 L704.5 155.1 L704.5 155.1 L703.9 154.9 L703.8 154.9 L703.2 154.8 L703.1 154.7 L702.5 154.6 L702.4 154.6 L701.8 154.5 L701.7 154.5 L701.1 154.4 L701.0 154.4 L700.4 154.3 L700.3 154.3 L699.7 154.3 L699.6 154.3 L699.0 154.2 L698.9 154.2 L698.2 154.2 L698.2 154.2 L697.5 154.2 L697.5 154.2 L696.8 154.2 L696.8 154.2 L696.1 154.2 L696.0 154.2 L695.4 154.3 L695.3 154.3 L694.7 154.3 L694.6 154.3 L694.0 154.4 L693.9 154.4 L693.3 154.5 L693.2 154.5 L692.6 154.6 L692.5 154.6 L691.9 154.7 L691.8 154.8 L691.2 154.9 L691.1 154.9 L690.5 155.1 L690.5 155.1 L689.9 155.2 L689.8 155.3 L689.2 155.4 L689.1 155.5 L688.5 155.6 L688.4 155.7 L687.8 155.9 L687.8 155.9 L687.2 156.1 L687.1 156.1 L686.5 156.4 L686.4 156.4 L685.9 156.7 L685.8 156.7 L685.2 156.9 L685.1 157.0 L684.6 157.3 L684.5 157.3 L684.0 157.6 L683.9 157.6 L683.3 157.9 L683.3 158.0 L682.7 158.3 L682.7 158.3 L682.1 158.6 L682.1 158.7 L681.5 159.0 L681.5 159.1 L681.0 159.4 L680.9 159.5 L680.4 159.8 L680.3 159.9 L679.8 160.3 L679.7 160.3 L679.3 160.7 L679.2 160.8 L678.7 161.2 L678.7 161.2 L678.2 161.6 L678.1 161.7 L677.7 162.1 L677.6 162.2 L677.2 162.6 L677.1 162.7 L676.7 163.1 L676.6 163.2 L676.2 163.6 L676.1 163.7 L675.7 164.2 L675.7 164.2 L675.3 164.7 L675.2 164.8 L674.8 165.2 L674.8 165.3 L674.4 165.8 L674.3 165.9 L674.0 166.4 L673.9 166.5 L673.6 167.0 L673.5 167.0 L673.2 167.6 L673.1 167.6 L672.8 168.2 L672.8 168.2 L672.5 168.8 L672.4 168.8 L672.1 169.4 L672.1 169.5 L671.8 170.0 L671.8 170.1 L671.5 170.6 L671.4 170.7 L671.2 171.3 L671.2 171.4 L670.9 171.9 L670.9 172.0 L670.6 172.6 L670.6 172.7 L670.4 173.3 L670.4 173.3 L670.2 173.9 L670.1 174.0 L670.0 174.6 L669.9 174.7 L669.8 175.3 L669.7 175.4 L669.6 176.0 L669.6 176.0 L669.4 176.6 L669.4 176.7 L669.3 177.3 L669.2 177.4 L669.1 178.0 L669.1 178.1 L669.0 178.7 L669.0 178.8 L668.9 179.4 L668.9 179.5 L668.8 180.1 L668.8 180.2 L668.8 180.8 L668.8 180.9 L668.7 181.5 L668.7 181.6 L668.7 182.3 L668.7 182.3 L668.7 183.0 L668.7 183.0 L668.7 183.7 L668.7 183.7 L668.7 184.4 L668.7 184.5 L668.8 185.1 L668.8 185.2 L668.8 185.8 L668.8 185.9 L668.9 186.5 L668.9 186.6 L669.0 187.2 L669.0 187.3 L669.1 187.9 L669.1 188.0 L669.2 188.6 L669.3 188.7 L669.4 189.3 L669.4 189.4 L669.6 190.0 L669.6 190.0 L669.7 190.6 L669.8 190.7 L669.9 191.3 L670.0 191.4 L670.1 191.9 L670.2 192.1 L670.2 192.3 L670.3 192.4 L670.3 192.6 L670.3 192.8 L670.4 192.9 L670.4 193.1 L670.4 193.3 L670.4 193.4 L670.4 193.6 L670.4 193.8 L670.4 194.0 L670.4 194.1 L670.4 194.3 L670.4 194.5 L670.4 194.7 L670.4 194.8 L670.4 195.0 L670.4 195.2 L670.3 195.3 L670.3 195.5 L670.3 195.7 L670.2 195.8 L670.2 196.0 L670.1 196.2 L670.1 196.3 L670.0 196.5 L669.9 196.6 L669.9 196.8 L669.8 197.0 L669.7 197.1 L669.7 197.3 L669.6 197.4 L669.5 197.6 L669.4 197.7 L669.3 197.9 L669.2 198.0 L669.1 198.2 L669.0 198.3 L668.9 198.4 L668.8 198.6 L668.7 198.7 L668.6 198.8 L668.5 198.9 L668.3 199.1 L668.2 199.2 L668.1 199.3 L668.0 199.4 L667.8 199.5 L667.7 199.6 L667.5 199.7 L667.4 199.8 L667.3 199.9 L667.1 200.0 L667.0 200.1 L666.8 200.2 L666.7 200.3 L666.5 200.3 L666.4 200.4 L666.2 200.5 L666.0 200.5 L665.9 200.6 L665.7 200.7 L665.6 200.7 L665.4 200.8 L665.2 200.8 L665.1 200.9 L664.9 200.9 L664.7 200.9 L664.6 201.0 L664.4 201.0 L664.2 201.0 L664.0 201.0 L663.9 201.0 L663.7 201.0 L663.5 201.0 L663.4 201.0 L663.2 201.0 L663.0 201.0 L662.8 201.0 L662.7 201.0 L662.5 201.0 L662.3 201.0 L662.2 200.9 L662.0 200.9 L661.8 200.9 L661.7 200.8 L661.5 200.8 L661.2 200.7 L661.1 200.7 L660.6 200.5 L660.5 200.5 L659.9 200.4 L659.8 200.3 L659.3 200.2 L659.2 200.2 L658.6 200.1 L658.5 200.1 L658.0 200.0 L657.9 200.0 L657.3 199.9 L657.2 199.9 L656.7 199.8 L656.6 199.8 L656.0 199.8 L655.9 199.8 L655.4 199.7 L655.3 199.7 L654.7 199.7 L654.6 199.7 L654.0 199.7 L654.0 199.7 L653.4 199.7 L653.3 199.7 L652.7 199.7 L652.6 199.7 L652.1 199.8 L652.0 199.8 L651.4 199.8 L651.3 199.8 L650.8 199.9 L650.7 199.9 L650.1 200.0 L650.0 200.0 L649.5 200.1 L649.4 200.1 L648.8 200.2 L648.7 200.2 L648.2 200.3 L648.1 200.4 L647.5 200.5 L647.4 200.5 L646.9 200.7 L646.8 200.7 L646.3 200.8 L646.2 200.9 L645.6 201.0 L645.6 201.1 L645.0 201.3 L644.9 201.3 L644.4 201.5 L644.3 201.5 L643.8 201.7 L643.7 201.8 L643.2 202.0 L643.1 202.0 L642.6 202.3 L642.5 202.3 L642.0 202.5 L641.9 202.6 L641.4 202.8 L641.3 202.9 L640.8 203.2 L640.8 203.2 L640.3 203.5 L640.2 203.5 L639.7 203.8 L639.6 203.9 L639.1 204.2 L639.1 204.2 L638.6 204.6 L638.5 204.6 L638.1 204.9 L638.0 205.0 L637.5 205.3 L637.5 205.4 L637.0 205.8 L637.0 205.8 L636.5 206.2 L636.5 206.2 L636.0 206.6 L636.0 206.7 L635.6 207.1 L635.5 207.1 L635.1 207.5 L635.0 207.6 L634.6 208.0 L634.6 208.1 L634.2 208.5 L634.1 208.5 L633.7 209.0 L633.7 209.0 L633.3 209.5 L633.3 209.5 L632.9 210.0 L632.8 210.0 L632.5 210.5 L632.4 210.6 L632.1 211.0 L632.1 211.1 L631.7 211.6 L631.7 211.6 L631.4 212.1 L631.3 212.2 L631.0 212.7 L631.0 212.8 L630.7 213.3 L630.7 213.3 L630.4 213.8 L630.3 213.9 L630.1 214.4 L630.0 214.5 L629.8 215.0 L629.8 215.1 L629.5 215.6 L629.5 215.7 L629.3 216.2 L629.2 216.3 L629.0 216.8 L629.0 216.9 L628.8 217.4 L628.8 217.5 L628.6 218.1 L628.5 218.1 L628.4 218.7 L628.3 218.8 L628.2 219.3 L628.2 219.4 L628.0 219.9 L628.0 220.0 L627.9 220.6 L627.8 220.7 L627.7 221.2 L627.7 221.3 L627.6 221.9 L627.6 222.0 L627.5 222.5 L627.5 222.6 L627.4 223.2 L627.4 223.3 L627.3 223.8 L627.3 223.9 L627.3 224.5 L627.3 224.6 L627.2 225.1 L627.2 225.2 L627.2 225.8 L627.2 225.9 L627.2 226.5 L627.2 226.5 L627.2 227.1 L627.2 227.2 L627.2 227.8 L627.2 227.9 L627.3 228.4 L627.3 228.5 L627.3 229.1 L627.3 229.2 L627.4 229.7 L627.4 229.8 L627.5 230.4 L627.5 230.5 L627.6 231.0 L627.6 231.1 L627.7 231.7 L627.7 231.8 L627.8 232.3 L627.9 232.4 L628.0 233.0 L628.0 233.1 L628.2 233.6 L628.2 233.7 L628.3 234.2 L628.4 234.3 L628.5 234.9 L628.6 234.9 L628.8 235.5 L628.8 235.6 L629.0 236.1 L629.0 236.2 L629.2 236.7 L629.3 236.8 L629.5 237.3 L629.5 237.4 L629.8 237.9 L629.8 238.0 L630.0 238.5 L630.1 238.6 L630.3 239.1 L630.4 239.2 L630.7 239.7 L630.7 239.7 L631.0 240.2 L631.0 240.3 L631.3 240.8 L631.4 240.9 L631.7 241.4 L631.7 241.4 L632.1 241.9 L632.1 242.0 L632.4 242.4 L632.5 242.5 L632.8 243.0 L632.9 243.0 L633.3 243.5 L633.3 243.5 L633.7 244.0 L633.7 244.0 L634.1 244.5 L634.2 244.5 L634.6 244.9 L634.6 245.0 L635.0 245.4 L635.1 245.5 L635.5 245.9 L635.6 245.9 L636.0 246.3 L636.0 246.4 L636.5 246.8 L636.5 246.8 L637.0 247.2 L637.0 247.2 L637.5 247.6 L637.5 247.7 L638.0 248.0 L638.1 248.1 L638.5 248.4 L638.6 248.4 L639.1 248.8 L639.1 248.8 L639.6 249.1 L639.7 249.2 L640.2 249.5 L640.3 249.5 L640.8 249.8 L640.8 249.8 L641.3 250.1 L641.4 250.2 L641.9 250.4 L642.0 250.5 L642.5 250.7 L642.6 250.7 L643.1 251.0 L643.2 251.0 L643.7 251.2 L643.8 251.3 L644.3 251.5 L644.4 251.5 L644.9 251.7 L645.0 251.7 L645.6 251.9 L645.6 252.0 L646.2 252.1 L646.3 252.2 L646.8 252.3 L646.9 252.3 L647.4 252.5 L647.5 252.5 L648.1 252.6 L648.2 252.7 L648.7 252.8 L648.8 252.8 L649.4 252.9 L649.5 252.9 L650.0 253.0 L650.1 253.0 L650.7 253.1 L650.8 253.1 L651.3 253.2 L651.4 253.2 L652.0 253.2 L652.1 253.2 L652.6 253.3 L652.7 253.3 L653.3 253.3 L653.4 253.3 L654.0 253.3 L654.0 253.3 L654.6 253.3 L654.7 253.3 L655.3 253.3 L655.4 253.3 L655.9 253.2 L656.0 253.2 L656.6 253.2 L656.7 253.2 L657.2 253.1 L657.3 253.1 L657.9 253.0 L658.0 253.0 L658.5 252.9 L658.6 252.9 L659.2 252.8 L659.3 252.8 L659.8 252.7 L659.9 252.6 L660.5 252.5 L660.6 252.5 L661.1 252.3 L661.2 252.3 L661.4 252.3 Z" stroke-width="1.38"/><circle cx="697.5" cy="184.2" r="21.8" stroke-width="3.34"/><text x="801.72" y="197.5" text-anchor="middle" font-family="Liberation Sans, sans-serif" font-weight="bold" font-size="37" fill="#141414" stroke="none" transform="scale(0.87 1)">X</text><circle cx="651.9" cy="227.0" r="21.8" stroke-width="3.34"/><text x="775.71" y="242.1" text-anchor="middle" font-family="Liberation Sans, sans-serif" font-weight="bold" font-size="37" fill="#141414" stroke="none" transform="scale(0.84 1)">Y</text><circle cx="743.3" cy="227.9" r="21.8" stroke-width="3.34"/><text x="874.94" y="239.0" text-anchor="middle" font-family="Liberation Sans, sans-serif" font-weight="bold" font-size="37" fill="#141414" stroke="none" transform="scale(0.85 1)">A</text><circle cx="697.6" cy="270.3" r="21.8" stroke-width="3.34"/><text x="873.00" y="283.6" text-anchor="middle" font-family="Liberation Sans, sans-serif" font-weight="bold" font-size="37" fill="#141414" stroke="none" transform="scale(0.8 1)">B</text><g><path d="M 521 609 C 480 609.5, 420 612, 397.6 616.7" stroke-width="2.65"/><path d="M 521 612.0 C 480 612.5, 425 615, 392 621" stroke-width="1.38"/><path d="M 521 912 L 380 912" stroke-width="2.88"/><path d="M 270 659 Q 266 668, 274 668 L 375 639 Q 383 630, 389.4 620 Q 392 617, 397.6 616.7" stroke-width="1.84"/><path d="M 274 664 L 372 636 Q 380 628, 386 619" stroke-width="1.27"/><path d="M 270 659 L 291.7 646" stroke-width="1.61"/><path d="M 291.1 652 L 292 612.4 C 292.5 602, 297 598, 303 596 L 335.6 587.9 L 349.4 588.8 Q 354 590, 356.9 593.9 L 364.3 636.5" stroke-width="1.73"/><path d="M 293.9 607.8 Q 300 598, 315.2 595.7 L 335.6 591.6 L 352 592" stroke-width="1.27"/><path d="M 314.3 593 L 326.3 654 M 335.6 588.3 L 344.8 643.9 M 293.9 624.4 L 300.4 656.9" stroke-width="1.50"/><path d="M 357 594 L 375 606 M 362 597 L 375 594 L 389.4 592 L 440.4 606.5 L 440.4 611 M 389.4 595.5 L 438 609.5" stroke-width="1.38"/><path d="M 376.5 594.5 L 377.5 620" stroke-width="2.65"/><path d="M 389.4 592 L 389.4 618" stroke-width="1.38"/></g><g transform="matrix(-1 0 0 1 1041.6 0)"><path d="M 521 609 C 480 609.5, 420 612, 397.6 616.7" stroke-width="2.65"/><path d="M 521 612.0 C 480 612.5, 425 615, 392 621" stroke-width="1.38"/><path d="M 521 912 L 380 912" stroke-width="2.88"/><path d="M 270 659 Q 266 668, 274 668 L 375 639 Q 383 630, 389.4 620 Q 392 617, 397.6 616.7" stroke-width="1.84"/><path d="M 274 664 L 372 636 Q 380 628, 386 619" stroke-width="1.27"/><path d="M 270 659 L 291.7 646" stroke-width="1.61"/><path d="M 291.1 652 L 292 612.4 C 292.5 602, 297 598, 303 596 L 335.6 587.9 L 349.4 588.8 Q 354 590, 356.9 593.9 L 364.3 636.5" stroke-width="1.73"/><path d="M 293.9 607.8 Q 300 598, 315.2 595.7 L 335.6 591.6 L 352 592" stroke-width="1.27"/><path d="M 314.3 593 L 326.3 654 M 335.6 588.3 L 344.8 643.9 M 293.9 624.4 L 300.4 656.9" stroke-width="1.50"/><path d="M 357 594 L 375 606 M 362 597 L 375 594 L 389.4 592 L 440.4 606.5 L 440.4 611 M 389.4 595.5 L 438 609.5" stroke-width="1.38"/><path d="M 376.5 594.5 L 377.5 620" stroke-width="2.65"/><path d="M 389.4 592 L 389.4 618" stroke-width="1.38"/></g><path d="M 270 659 C 245 725, 200 830, 188 920 C 183.5 994, 211 1050, 252 1050  C 296 1050, 325 985, 346.5 932.8 Q 356 912, 380 912 L 521 912" stroke-width="1.33"/><path d="M 771.6 659 C 796.6 725, 842 830, 855 920 C 862 1000, 836 1051, 791 1051 C 748 1051, 719 985, 694.4 932.8 Q 685 912, 661 912 L 520 912" stroke-width="1.33"/><g><circle cx="404.7" cy="675.7" r="10.0" stroke-width="2.07"/><circle cx="404.7" cy="676.5" r="9.4" stroke-width="1.15"/><circle cx="404.7" cy="675.7" r="6.6" stroke-width="1.38"/><circle cx="404.7" cy="675.7" r="3.6" stroke-width="2.07"/><circle cx="270.3" cy="775" r="10.0" stroke-width="2.07"/><circle cx="270.3" cy="775.8" r="9.4" stroke-width="1.15"/><circle cx="270.3" cy="775" r="6.6" stroke-width="1.38"/><circle cx="270.3" cy="775" r="3.6" stroke-width="2.07"/><circle cx="370.7" cy="883.2" r="10.0" stroke-width="2.07"/><circle cx="370.7" cy="884.0" r="9.4" stroke-width="1.15"/><circle cx="370.7" cy="883.2" r="6.6" stroke-width="1.38"/><circle cx="370.7" cy="883.2" r="3.6" stroke-width="2.07"/><circle cx="248.6" cy="1002.4" r="10.0" stroke-width="2.07"/><circle cx="248.6" cy="1003.1999999999999" r="9.4" stroke-width="1.15"/><circle cx="248.6" cy="1002.4" r="6.6" stroke-width="1.38"/><circle cx="248.6" cy="1002.4" r="3.6" stroke-width="2.07"/></g><g transform="matrix(-1 0 0 1 1041.6 0)"><circle cx="404.7" cy="675.7" r="10.0" stroke-width="2.07"/><circle cx="404.7" cy="676.5" r="9.4" stroke-width="1.15"/><circle cx="404.7" cy="675.7" r="6.6" stroke-width="1.38"/><circle cx="404.7" cy="675.7" r="3.6" stroke-width="2.07"/><circle cx="270.3" cy="775" r="10.0" stroke-width="2.07"/><circle cx="270.3" cy="775.8" r="9.4" stroke-width="1.15"/><circle cx="270.3" cy="775" r="6.6" stroke-width="1.38"/><circle cx="270.3" cy="775" r="3.6" stroke-width="2.07"/><circle cx="370.7" cy="883.2" r="10.0" stroke-width="2.07"/><circle cx="370.7" cy="884.0" r="9.4" stroke-width="1.15"/><circle cx="370.7" cy="883.2" r="6.6" stroke-width="1.38"/><circle cx="370.7" cy="883.2" r="3.6" stroke-width="2.07"/><circle cx="248.6" cy="1002.4" r="10.0" stroke-width="2.07"/><circle cx="248.6" cy="1003.1999999999999" r="9.4" stroke-width="1.15"/><circle cx="248.6" cy="1002.4" r="6.6" stroke-width="1.38"/><circle cx="248.6" cy="1002.4" r="3.6" stroke-width="2.07"/></g><path d="M 454 704 L 603 704 Q 607.6 704 607.6 709 L 607.6 807 Q 607.6 812.9 602 812.9 L 439 812.9 Q 433.6 812.9 433.6 807 L 433.6 725 Q 433.6 704 454 704 Z" stroke="#3a3a3a" stroke-width="1.96"/><circle cx="576.5" cy="873.7" r="13.2" stroke-width="4.03"/>
</g>
<g fill="#d4cc86" stroke="#d4cc86" stroke-width="0.2" font-family="Liberation Sans, sans-serif" font-weight="bold">
<path d="M 184 121.5 L 325 121.5" stroke="#d4cc86" stroke-width="3.2" fill="none" stroke-linecap="butt"/><text x="159.4" y="128.4" text-anchor="start" font-size="18" textLength="15.3" lengthAdjust="spacingAndGlyphs" stroke-width="0.5">L1</text><path d="M 456.7 48.5 L 477 48.5 L 477 215" stroke="#d4cc86" stroke-width="3.2" fill="none" stroke-linecap="butt"/><text x="446.7" y="43" text-anchor="end" font-size="18" textLength="112" lengthAdjust="spacingAndGlyphs">Captura de</text><text x="446.7" y="62.2" text-anchor="end" font-size="18" textLength="83" lengthAdjust="spacingAndGlyphs">pantalla</text><path d="M 442 106 L 442 167.7" stroke="#d4cc86" stroke-width="2.8" fill="none" stroke-linecap="butt"/><path d="M 566.7 90.3 L 566.7 211.5" stroke="#d4cc86" stroke-width="3.2" fill="none" stroke-linecap="butt"/><text x="543" y="76" text-anchor="start" font-size="18" textLength="41" lengthAdjust="spacingAndGlyphs">Inici</text><path d="M 605.8 105.5 L 605.8 165.6" stroke="#d4cc86" stroke-width="2.8" fill="none" stroke-linecap="butt"/><path d="M 663.3 87.2 L 663.3 227.5" stroke="#d4cc86" stroke-width="3.2" fill="none" stroke-linecap="butt"/><text x="664" y="82.8" text-anchor="middle" font-size="18" textLength="12.5" lengthAdjust="spacingAndGlyphs">Y</text><path d="M 718.5 124.3 L 854.3 124.3" stroke="#d4cc86" stroke-width="3.2" fill="none" stroke-linecap="butt"/><text x="862" y="131" text-anchor="start" font-size="18" textLength="19.5" lengthAdjust="spacingAndGlyphs" stroke-width="0.7">R1</text><path d="M 705.8 183 L 873.2 183" stroke="#d4cc86" stroke-width="3.2" fill="none" stroke-linecap="butt"/><text x="882.8" y="190.7" text-anchor="start" font-size="18" textLength="11.6" lengthAdjust="spacingAndGlyphs">X</text><path d="M 755 227 L 873.2 227" stroke="#d4cc86" stroke-width="3.2" fill="none" stroke-linecap="butt"/><text x="881.5" y="234.3" text-anchor="start" font-size="18" textLength="13.7" lengthAdjust="spacingAndGlyphs">A</text><path d="M 710.6 269.8 L 877.6 269.8" stroke="#d4cc86" stroke-width="3.2" fill="none" stroke-linecap="butt"/><text x="888" y="277.6" text-anchor="start" font-size="18" textLength="11.6" lengthAdjust="spacingAndGlyphs">B</text><path d="M 147.3 237.8 L 259 237.8" stroke="#d4cc86" stroke-width="3.2" fill="none" stroke-linecap="butt"/><text x="135.8" y="231.5" text-anchor="end" font-size="18" textLength="51.5" lengthAdjust="spacingAndGlyphs">Tecla</text><text x="135.8" y="252" text-anchor="end" font-size="18" textLength="91.6" lengthAdjust="spacingAndGlyphs">Izquierda</text><path d="M 144 345.7 L 372.5 345.7" stroke="#d4cc86" stroke-width="3.2" fill="none" stroke-linecap="butt"/><text x="135.8" y="337" text-anchor="end" font-size="18" textLength="81.4" lengthAdjust="spacingAndGlyphs">Tecla de</text><text x="135.8" y="357.5" text-anchor="end" font-size="18" textLength="91.6" lengthAdjust="spacingAndGlyphs">dirección</text><path d="M 679.4 350.2 L 938.5 350.2" stroke="#d4cc86" stroke-width="3.2" fill="none" stroke-linecap="butt"/><text x="952.8" y="343.7" text-anchor="start" font-size="18" textLength="51.8" lengthAdjust="spacingAndGlyphs">Tecla</text><text x="952.8" y="363" text-anchor="start" font-size="18" textLength="83" lengthAdjust="spacingAndGlyphs">Derecha</text><path d="M 520.3 355.7 L 520.3 472.5" stroke="#d4cc86" stroke-width="3.2" fill="none" stroke-linecap="butt"/><text x="491.7" y="495" text-anchor="start" font-size="18" textLength="56.6" lengthAdjust="spacingAndGlyphs">Turbo</text><path d="M 183.8 624.2 L 325.4 624.2" stroke="#d4cc86" stroke-width="3.2" fill="none" stroke-linecap="butt"/><text x="156.3" y="630.3" text-anchor="start" font-size="18" textLength="18.3" lengthAdjust="spacingAndGlyphs" stroke-width="0.7">L2</text><path d="M 718.5 626.9 L 854 626.9" stroke="#d4cc86" stroke-width="3.2" fill="none" stroke-linecap="butt"/><text x="863" y="633" text-anchor="start" font-size="18" textLength="21" lengthAdjust="spacingAndGlyphs" stroke-width="0.7">R2</text><path d="M 576.4 877.6 L 576.4 994.6" stroke="#d4cc86" stroke-width="3.2" fill="none" stroke-linecap="butt"/><text x="535.8" y="1014.8" text-anchor="start" font-size="18" textLength="86.2" lengthAdjust="spacingAndGlyphs">Reinicio/</text><text x="534" y="1034" text-anchor="start" font-size="18" textLength="90.7" lengthAdjust="spacingAndGlyphs">Apagado</text><g stroke="#141414" stroke-width="1.4" fill="none" stroke-linecap="round"><path d="M 430 84.6 L 428.6 88.6 M 433.6 84.6 L 432.2 88.6 M 451.4 84.6 L 450 88.6 M 455 84.6 L 453.6 88.6"/><path d="M 436.8 99.2 L 446.8 99.2" stroke-width="2"/></g><g stroke="#d4cc86" stroke-width="1.6" fill="none" stroke-linecap="round"><path d="M 596.5 84.5 L 594.8 89 M 600.2 84.5 L 598.5 89 M 620.5 84.5 L 618.8 89 M 624.2 84.5 L 622.5 89"/><path d="M 604.8 91.4 L 614.4 91.4 M 609.6 86.6 L 609.6 96.2" stroke-width="2.6"/></g>
</g>
</svg>
</body></html>
